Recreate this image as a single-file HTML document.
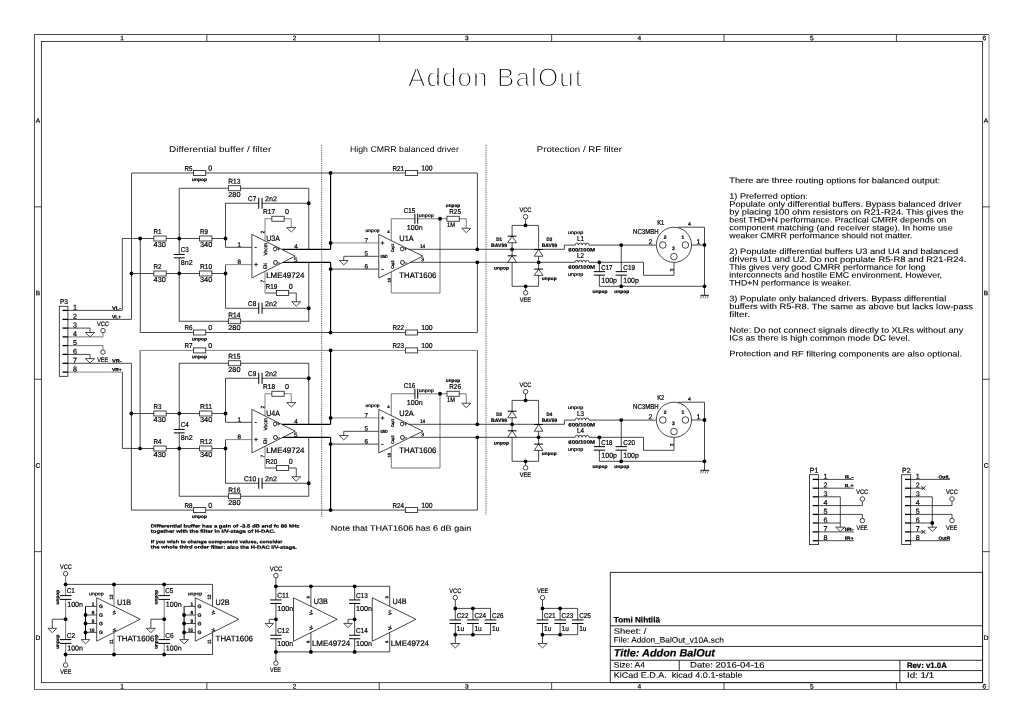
<!DOCTYPE html>
<html><head><meta charset="utf-8"><title>Addon BalOut</title>
<style>
html,body{margin:0;padding:0;background:#fff;}
svg{display:block;will-change:transform;filter:grayscale(1)}
text{font-family:'Liberation Sans', sans-serif;fill:#000;white-space:pre;text-rendering:geometricPrecision;stroke:#000;stroke-width:0.22px}
polyline,.w{fill:none;stroke:#1a1a1a;stroke-width:0.8}
polyline.k{stroke:#000;stroke-width:1.15}
polyline.g{stroke:#666;stroke-width:0.8}
.b{fill:#fff;stroke:#1a1a1a;stroke-width:0.8}
.p{stroke:#000;stroke-width:1.0}
.j{fill:#000;stroke:none}
.f{fill:none;stroke:#1a1a1a;stroke-width:0.8}
</style></head>
<body>
<svg width="1024" height="724" viewBox="0 0 1024 724">
<rect x="0" y="0" width="1024" height="724" fill="#fff" stroke="none"/>
<polyline points="989.00,34.48 34.48,34.48 34.48,689.46" style="stroke-width:0.8;"/>
<polyline points="34.48,689.46 989.00,689.46" style="stroke-width:0.8;stroke:#444;"/>
<polyline points="989.00,34.48 989.00,689.46" style="stroke-width:0.8;stroke:#777;"/>
<rect x="41.37" y="41.37" width="941.25" height="641.29" class="f"/>
<polyline points="206.87,34.48 206.87,41.37"/>
<polyline points="206.87,682.67 206.87,689.56"/>
<polyline points="379.26,34.48 379.26,41.37"/>
<polyline points="379.26,682.67 379.26,689.56"/>
<polyline points="551.65,34.48 551.65,41.37"/>
<polyline points="551.65,682.67 551.65,689.56"/>
<polyline points="724.04,34.48 724.04,41.37"/>
<polyline points="724.04,682.67 724.04,689.56"/>
<polyline points="896.43,34.48 896.43,41.37"/>
<polyline points="896.43,682.67 896.43,689.56"/>
<text x="122.17" y="40.33" font-size="6.57" text-anchor="middle" transform="rotate(0.03 122.17 40.33)">1</text>
<text x="122.17" y="688.51" font-size="6.57" text-anchor="middle" transform="rotate(0.03 122.17 688.51)">1</text>
<text x="294.56" y="40.33" font-size="6.57" text-anchor="middle" transform="rotate(0.03 294.56 40.33)">2</text>
<text x="294.56" y="688.51" font-size="6.57" text-anchor="middle" transform="rotate(0.03 294.56 688.51)">2</text>
<text x="466.95" y="40.33" font-size="6.57" text-anchor="middle" transform="rotate(0.03 466.95 40.33)">3</text>
<text x="466.95" y="688.51" font-size="6.57" text-anchor="middle" transform="rotate(0.03 466.95 688.51)">3</text>
<text x="639.35" y="40.33" font-size="6.57" text-anchor="middle" transform="rotate(0.03 639.35 40.33)">4</text>
<text x="639.35" y="688.51" font-size="6.57" text-anchor="middle" transform="rotate(0.03 639.35 688.51)">4</text>
<text x="811.74" y="40.33" font-size="6.57" text-anchor="middle" transform="rotate(0.03 811.74 40.33)">5</text>
<text x="811.74" y="688.51" font-size="6.57" text-anchor="middle" transform="rotate(0.03 811.74 688.51)">5</text>
<text x="984.40" y="40.33" font-size="6.57" text-anchor="middle" transform="rotate(0.03 984.40 40.33)">6</text>
<text x="984.40" y="688.51" font-size="6.57" text-anchor="middle" transform="rotate(0.03 984.40 688.51)">6</text>
<polyline points="34.48,206.87 41.37,206.87"/>
<polyline points="982.63,206.87 989.52,206.87"/>
<polyline points="34.48,379.26 41.37,379.26"/>
<polyline points="982.63,379.26 989.52,379.26"/>
<polyline points="34.48,551.65 41.37,551.65"/>
<polyline points="982.63,551.65 989.52,551.65"/>
<text x="37.93" y="122.87" font-size="6.57" text-anchor="middle" transform="rotate(0.03 37.93 122.87)">A</text>
<text x="986.07" y="122.87" font-size="6.57" text-anchor="middle" transform="rotate(0.03 986.07 122.87)">A</text>
<text x="37.93" y="295.26" font-size="6.57" text-anchor="middle" transform="rotate(0.03 37.93 295.26)">B</text>
<text x="986.07" y="295.26" font-size="6.57" text-anchor="middle" transform="rotate(0.03 986.07 295.26)">B</text>
<text x="37.93" y="467.65" font-size="6.57" text-anchor="middle" transform="rotate(0.03 37.93 467.65)">C</text>
<text x="986.07" y="467.65" font-size="6.57" text-anchor="middle" transform="rotate(0.03 986.07 467.65)">C</text>
<text x="37.93" y="640.05" font-size="6.57" text-anchor="middle" transform="rotate(0.03 37.93 640.05)">D</text>
<text x="986.07" y="640.05" font-size="6.57" text-anchor="middle" transform="rotate(0.03 986.07 640.05)">D</text>
<rect x="610.26" y="572.34" width="372.36" height="110.33" class="f" style="stroke-width:0.9"/>
<polyline points="610.26,670.60 982.63,670.60" style="stroke-width:0.9;"/>
<polyline points="610.26,660.26 982.63,660.26" style="stroke-width:0.9;"/>
<polyline points="610.26,646.46 982.63,646.46" style="stroke-width:0.9;"/>
<polyline points="610.26,625.78 982.63,625.78" style="stroke-width:0.9;"/>
<polyline points="679.22,660.26 679.22,670.60" style="stroke-width:0.9;"/>
<polyline points="899.88,660.26 899.88,682.67" style="stroke-width:0.9;"/>
<text x="613.75" y="622.60" font-size="7.86" textLength="46.20" lengthAdjust="spacingAndGlyphs" font-weight="bold" transform="rotate(0.03 613.75 622.60)">Tomi Nihtilä</text>
<text x="613.75" y="633.80" font-size="7.86" textLength="32.50" lengthAdjust="spacingAndGlyphs" style="stroke-width:0.1px" transform="rotate(0.03 613.75 633.80)">Sheet: /</text>
<text x="613.75" y="642.60" font-size="7.86" textLength="110.00" lengthAdjust="spacingAndGlyphs" style="stroke-width:0.1px" transform="rotate(0.03 613.75 642.60)">File: Addon_BalOut_v10A.sch</text>
<text x="613.75" y="656.40" font-size="10.71" textLength="101.20" lengthAdjust="spacingAndGlyphs" font-weight="bold" font-style="italic" transform="rotate(0.03 613.75 656.40)">Title: Addon BalOut</text>
<text x="613.75" y="667.60" font-size="7.86" textLength="31.20" lengthAdjust="spacingAndGlyphs" style="stroke-width:0.1px" transform="rotate(0.03 613.75 667.60)">Size: A4</text>
<text x="690.00" y="667.60" font-size="7.86" textLength="74.50" lengthAdjust="spacingAndGlyphs" style="stroke-width:0.1px" transform="rotate(0.03 690.00 667.60)">Date: 2016-04-16</text>
<text x="613.75" y="677.70" font-size="7.86" textLength="128.70" lengthAdjust="spacingAndGlyphs" style="stroke-width:0.1px" transform="rotate(0.03 613.75 677.70)">KiCad E.D.A.  kicad 4.0.1-stable</text>
<text x="906.90" y="667.90" font-size="7.86" textLength="39.90" lengthAdjust="spacingAndGlyphs" font-weight="bold" transform="rotate(0.03 906.90 667.90)">Rev: v1.0A</text>
<text x="906.90" y="677.80" font-size="7.86" textLength="27.40" lengthAdjust="spacingAndGlyphs" style="stroke-width:0.1px" transform="rotate(0.03 906.90 677.80)">Id: 1/1</text>
<polyline points="131.50,173.00 477.40,173.00 477.40,249.30"/>
<polyline points="140.30,332.50 477.40,332.50 477.40,262.30"/>
<polyline points="140.10,350.40 477.40,350.40" style="stroke:#666;"/>
<polyline points="477.40,350.40 477.40,424.30"/>
<polyline points="131.40,510.10 477.40,510.10 477.40,437.30"/>
<polyline points="330.60,173.00 330.60,249.30" class="k"/>
<polyline points="330.60,262.30 330.60,332.50" class="k"/>
<polyline points="330.60,350.40 330.60,424.30" class="k"/>
<polyline points="330.60,437.30 330.60,510.10" class="k"/>
<circle cx="330.60" cy="173.00" r="1.9" class="j"/>
<circle cx="330.60" cy="332.50" r="1.9" class="j"/>
<circle cx="330.60" cy="350.40" r="1.9" class="j"/>
<circle cx="330.60" cy="510.10" r="1.9" class="j"/>
<rect x="193.45" y="170.50" width="12.3" height="5.0" class="b"/>
<rect x="405.35" y="170.50" width="12.3" height="5.0" class="b"/>
<text x="184.50" y="170.60" font-size="7.14" textLength="8.00" lengthAdjust="spacingAndGlyphs" transform="rotate(0.03 184.50 170.60)">R5</text>
<text x="208.20" y="170.60" font-size="7.14" transform="rotate(0.03 208.20 170.60)">0</text>
<text x="192.00" y="180.90" font-size="4.57" textLength="15.00" lengthAdjust="spacingAndGlyphs" font-weight="bold" transform="rotate(0.03 192.00 180.90)">unpop</text>
<text x="392.40" y="170.60" font-size="7.14" textLength="11.50" lengthAdjust="spacingAndGlyphs" transform="rotate(0.03 392.40 170.60)">R21</text>
<text x="421.20" y="170.60" font-size="7.14" textLength="11.40" lengthAdjust="spacingAndGlyphs" transform="rotate(0.03 421.20 170.60)">100</text>
<rect x="193.45" y="330.00" width="12.3" height="5.0" class="b"/>
<rect x="405.35" y="330.00" width="12.3" height="5.0" class="b"/>
<text x="184.50" y="330.10" font-size="7.14" textLength="8.00" lengthAdjust="spacingAndGlyphs" transform="rotate(0.03 184.50 330.10)">R6</text>
<text x="208.20" y="330.10" font-size="7.14" transform="rotate(0.03 208.20 330.10)">0</text>
<text x="192.00" y="340.40" font-size="4.57" textLength="15.00" lengthAdjust="spacingAndGlyphs" font-weight="bold" transform="rotate(0.03 192.00 340.40)">unpop</text>
<text x="392.40" y="330.10" font-size="7.14" textLength="11.50" lengthAdjust="spacingAndGlyphs" transform="rotate(0.03 392.40 330.10)">R22</text>
<text x="421.20" y="330.10" font-size="7.14" textLength="11.40" lengthAdjust="spacingAndGlyphs" transform="rotate(0.03 421.20 330.10)">100</text>
<rect x="193.45" y="347.90" width="12.3" height="5.0" class="b"/>
<rect x="405.35" y="347.90" width="12.3" height="5.0" class="b"/>
<text x="184.50" y="348.00" font-size="7.14" textLength="8.00" lengthAdjust="spacingAndGlyphs" transform="rotate(0.03 184.50 348.00)">R7</text>
<text x="208.20" y="348.00" font-size="7.14" transform="rotate(0.03 208.20 348.00)">0</text>
<text x="192.00" y="358.30" font-size="4.57" textLength="15.00" lengthAdjust="spacingAndGlyphs" font-weight="bold" transform="rotate(0.03 192.00 358.30)">unpop</text>
<text x="392.40" y="348.00" font-size="7.14" textLength="11.50" lengthAdjust="spacingAndGlyphs" transform="rotate(0.03 392.40 348.00)">R23</text>
<text x="421.20" y="348.00" font-size="7.14" textLength="11.40" lengthAdjust="spacingAndGlyphs" transform="rotate(0.03 421.20 348.00)">100</text>
<rect x="193.45" y="507.60" width="12.3" height="5.0" class="b"/>
<rect x="405.35" y="507.60" width="12.3" height="5.0" class="b"/>
<text x="184.50" y="507.70" font-size="7.14" textLength="8.00" lengthAdjust="spacingAndGlyphs" transform="rotate(0.03 184.50 507.70)">R8</text>
<text x="208.20" y="507.70" font-size="7.14" transform="rotate(0.03 208.20 507.70)">0</text>
<text x="192.00" y="518.00" font-size="4.57" textLength="15.00" lengthAdjust="spacingAndGlyphs" font-weight="bold" transform="rotate(0.03 192.00 518.00)">unpop</text>
<text x="392.40" y="507.70" font-size="7.14" textLength="11.50" lengthAdjust="spacingAndGlyphs" transform="rotate(0.03 392.40 507.70)">R24</text>
<text x="421.20" y="507.70" font-size="7.14" textLength="11.40" lengthAdjust="spacingAndGlyphs" transform="rotate(0.03 421.20 507.70)">100</text>
<polyline points="67.90,310.40 122.30,310.40 122.30,238.50 140.20,238.50"/>
<polyline points="67.90,319.40 131.50,319.40 131.50,173.00"/>
<polyline points="140.30,238.50 140.30,332.50"/>
<circle cx="140.20" cy="238.50" r="1.9" class="j"/>
<circle cx="131.50" cy="273.50" r="1.9" class="j"/>
<polyline points="67.90,363.30 131.40,363.30 131.40,510.10"/>
<polyline points="67.90,372.10 122.40,372.10" style="stroke:#666;"/>
<polyline points="122.40,372.10 122.40,448.40 131.50,448.40"/>
<polyline points="140.10,350.40 140.10,448.40"/>
<polyline points="131.40,413.50 140.20,413.50"/>
<circle cx="131.40" cy="413.50" r="1.9" class="j"/>
<circle cx="140.10" cy="448.40" r="1.9" class="j"/>
<rect x="59.3" y="306.3" width="8.6" height="70.0" class="b"/>
<polyline points="62.50,310.40 68.00,310.40" style="stroke-width:1.3;stroke:#000;"/>
<text x="73.00" y="309.80" font-size="7.14" transform="rotate(0.03 73.00 309.80)">1</text>
<polyline points="62.50,319.40 68.00,319.40" style="stroke-width:1.3;stroke:#000;"/>
<text x="73.00" y="318.80" font-size="7.14" transform="rotate(0.03 73.00 318.80)">2</text>
<polyline points="62.50,328.10 68.00,328.10" style="stroke-width:1.3;stroke:#000;"/>
<text x="73.00" y="327.50" font-size="7.14" transform="rotate(0.03 73.00 327.50)">3</text>
<polyline points="62.50,336.90 68.00,336.90" style="stroke-width:1.3;stroke:#000;"/>
<text x="73.00" y="336.30" font-size="7.14" transform="rotate(0.03 73.00 336.30)">4</text>
<polyline points="62.50,345.60 68.00,345.60" style="stroke-width:1.3;stroke:#000;"/>
<text x="73.00" y="345.00" font-size="7.14" transform="rotate(0.03 73.00 345.00)">5</text>
<polyline points="62.50,354.40 68.00,354.40" style="stroke-width:1.3;stroke:#000;"/>
<text x="73.00" y="353.80" font-size="7.14" transform="rotate(0.03 73.00 353.80)">6</text>
<polyline points="62.50,363.30 68.00,363.30" style="stroke-width:1.3;stroke:#000;"/>
<text x="73.00" y="362.70" font-size="7.14" transform="rotate(0.03 73.00 362.70)">7</text>
<polyline points="62.50,372.10 68.00,372.10" style="stroke-width:1.3;stroke:#000;"/>
<text x="73.00" y="371.50" font-size="7.14" transform="rotate(0.03 73.00 371.50)">8</text>
<text x="60.00" y="303.80" font-size="7.14" textLength="8.00" lengthAdjust="spacingAndGlyphs" transform="rotate(0.03 60.00 303.80)">P3</text>
<polyline points="67.90,328.10 90.00,328.10 90.00,332.50"/>
<polygon points="85.40,332.50 94.60,332.50 90.00,336.90" class="b"/>
<polyline points="67.90,336.90 103.00,336.90 103.00,332.90" style="stroke:#555;"/>
<circle cx="103.00" cy="330.60" r="2.25" class="b"/>
<text x="96.90" y="325.90" font-size="6.43" textLength="11.90" lengthAdjust="spacingAndGlyphs" transform="rotate(0.03 96.90 325.90)">VCC</text>
<polyline points="67.90,345.60 103.00,345.60 103.00,349.80" style="stroke:#555;"/>
<circle cx="103.00" cy="352.10" r="2.25" class="b"/>
<text x="97.20" y="361.60" font-size="6.43" textLength="11.00" lengthAdjust="spacingAndGlyphs" transform="rotate(0.03 97.20 361.60)">VEE</text>
<polyline points="67.90,354.40 90.00,354.40 90.00,358.60"/>
<polygon points="85.40,358.60 94.60,358.60 90.00,363.00" class="b"/>
<text x="111.90" y="309.70" font-size="4.57" textLength="9.40" lengthAdjust="spacingAndGlyphs" font-weight="bold" transform="rotate(0.03 111.90 309.70)">VL-</text>
<text x="111.90" y="318.60" font-size="4.57" textLength="9.40" lengthAdjust="spacingAndGlyphs" font-weight="bold" transform="rotate(0.03 111.90 318.60)">VL+</text>
<text x="111.90" y="362.60" font-size="4.57" textLength="9.80" lengthAdjust="spacingAndGlyphs" font-weight="bold" transform="rotate(0.03 111.90 362.60)">VR-</text>
<text x="111.90" y="371.20" font-size="4.57" textLength="9.80" lengthAdjust="spacingAndGlyphs" font-weight="bold" transform="rotate(0.03 111.90 371.20)">VR+</text>
<line x1="321.7" y1="145.0" x2="321.7" y2="517.0" stroke="#333" stroke-width="0.9" stroke-dasharray="0.9 0.9"/>
<line x1="486.0" y1="145.0" x2="486.0" y2="514.5" stroke="#333" stroke-width="0.9" stroke-dasharray="0.9 0.9"/>
<text x="169.00" y="152.00" font-size="8.29" textLength="102.30" lengthAdjust="spacingAndGlyphs" style="stroke:none" transform="rotate(0.03 169.00 152.00)">Differential buffer / filter</text>
<text x="350.00" y="152.00" font-size="8.29" textLength="108.80" lengthAdjust="spacingAndGlyphs" style="stroke:none" transform="rotate(0.03 350.00 152.00)">High CMRR balanced driver</text>
<text x="536.80" y="152.00" font-size="8.29" textLength="85.20" lengthAdjust="spacingAndGlyphs" style="stroke:none" transform="rotate(0.03 536.80 152.00)">Protection / RF filter</text>
<text x="330.80" y="530.80" font-size="7.71" textLength="140.50" lengthAdjust="spacingAndGlyphs" style="stroke-width:0.08px" transform="rotate(0.03 330.80 530.80)">Note that THAT1606 has 6 dB gain</text>
<text x="150.80" y="527.50" font-size="4.57" textLength="148.70" lengthAdjust="spacingAndGlyphs" font-weight="bold" transform="rotate(0.03 150.80 527.50)">Differential buffer has a gain of -3.5 dB and fc 86 kHz</text>
<text x="150.80" y="532.70" font-size="4.57" textLength="124.70" lengthAdjust="spacingAndGlyphs" font-weight="bold" transform="rotate(0.03 150.80 532.70)">together with the filter in I/V-stage of H-DAC.</text>
<text x="150.80" y="543.20" font-size="4.57" textLength="131.70" lengthAdjust="spacingAndGlyphs" font-weight="bold" transform="rotate(0.03 150.80 543.20)">If you wish to change component values, consider</text>
<text x="150.80" y="548.60" font-size="4.57" textLength="146.20" lengthAdjust="spacingAndGlyphs" font-weight="bold" transform="rotate(0.03 150.80 548.60)">the whole third order filter: also the H-DAC I/V-stage.</text>
<text x="408.00" y="86.30" font-size="26.00" textLength="174.00" lengthAdjust="spacing" fill="#111" style="stroke:#fff;stroke-width:1.25px" transform="rotate(0.03 408.00 86.30)">Addon BalOut</text>
<polyline points="179.25,188.25 308.75,188.25 308.75,249.30"/>
<polyline points="179.25,188.25 179.25,321.25 308.75,321.25 308.75,262.30"/>
<rect x="228.35" y="185.75" width="12.3" height="5.0" class="b"/>
<text x="228.30" y="183.80" font-size="7.14" textLength="12.20" lengthAdjust="spacingAndGlyphs" transform="rotate(0.03 228.30 183.80)">R13</text>
<text x="228.30" y="197.10" font-size="7.14" textLength="12.20" lengthAdjust="spacingAndGlyphs" transform="rotate(0.03 228.30 197.10)">280</text>
<rect x="228.35" y="318.75" width="12.3" height="5.0" class="b"/>
<text x="228.30" y="317.40" font-size="7.14" textLength="12.20" lengthAdjust="spacingAndGlyphs" transform="rotate(0.03 228.30 317.40)">R14</text>
<text x="228.30" y="330.10" font-size="7.14" textLength="12.20" lengthAdjust="spacingAndGlyphs" transform="rotate(0.03 228.30 330.10)">280</text>
<polyline points="140.20,238.50 225.50,238.50"/>
<polyline points="131.50,273.50 225.50,273.50"/>
<rect x="153.85" y="236.00" width="12.3" height="5.0" class="b"/>
<text x="153.60" y="234.00" font-size="7.14" textLength="8.00" lengthAdjust="spacingAndGlyphs" transform="rotate(0.03 153.60 234.00)">R1</text>
<text x="153.60" y="247.10" font-size="7.14" textLength="12.20" lengthAdjust="spacingAndGlyphs" transform="rotate(0.03 153.60 247.10)">430</text>
<rect x="153.85" y="271.00" width="12.3" height="5.0" class="b"/>
<text x="153.60" y="269.00" font-size="7.14" textLength="8.00" lengthAdjust="spacingAndGlyphs" transform="rotate(0.03 153.60 269.00)">R2</text>
<text x="153.60" y="282.10" font-size="7.14" textLength="12.20" lengthAdjust="spacingAndGlyphs" transform="rotate(0.03 153.60 282.10)">430</text>
<rect x="199.60" y="236.00" width="12.3" height="5.0" class="b"/>
<text x="200.00" y="234.00" font-size="7.14" textLength="8.00" lengthAdjust="spacingAndGlyphs" transform="rotate(0.03 200.00 234.00)">R9</text>
<text x="200.00" y="247.10" font-size="7.14" textLength="12.20" lengthAdjust="spacingAndGlyphs" transform="rotate(0.03 200.00 247.10)">340</text>
<rect x="199.60" y="271.00" width="12.3" height="5.0" class="b"/>
<text x="200.00" y="269.00" font-size="7.14" textLength="12.20" lengthAdjust="spacingAndGlyphs" transform="rotate(0.03 200.00 269.00)">R10</text>
<text x="200.00" y="282.10" font-size="7.14" textLength="12.20" lengthAdjust="spacingAndGlyphs" transform="rotate(0.03 200.00 282.10)">340</text>
<rect x="178.05" y="254.45" width="2.4" height="3.40" fill="#fff" stroke="none"/>
<line x1="173.85" y1="254.45" x2="184.65" y2="254.45" class="p"/>
<line x1="173.85" y1="257.85" x2="184.65" y2="257.85" class="p"/>
<text x="180.80" y="252.40" font-size="7.14" textLength="8.00" lengthAdjust="spacingAndGlyphs" transform="rotate(0.03 180.80 252.40)">C3</text>
<text x="180.80" y="265.10" font-size="7.14" textLength="11.80" lengthAdjust="spacingAndGlyphs" transform="rotate(0.03 180.80 265.10)">8n2</text>
<polyline points="225.50,247.30 225.50,203.25 308.75,203.25"/>
<polyline points="225.50,264.60 225.50,308.25 308.75,308.25"/>
<rect x="258.75" y="202.05" width="3.30" height="2.4" fill="#fff" stroke="none"/>
<line x1="258.75" y1="197.75" x2="258.75" y2="208.75" class="p"/>
<line x1="262.05" y1="197.75" x2="262.05" y2="208.75" class="p"/>
<rect x="258.75" y="307.05" width="3.30" height="2.4" fill="#fff" stroke="none"/>
<line x1="258.75" y1="302.75" x2="258.75" y2="313.75" class="p"/>
<line x1="262.05" y1="302.75" x2="262.05" y2="313.75" class="p"/>
<text x="248.10" y="201.20" font-size="7.14" textLength="8.20" lengthAdjust="spacingAndGlyphs" transform="rotate(0.03 248.10 201.20)">C7</text>
<text x="265.00" y="201.20" font-size="7.14" textLength="12.00" lengthAdjust="spacingAndGlyphs" transform="rotate(0.03 265.00 201.20)">2n2</text>
<text x="248.10" y="306.20" font-size="7.14" textLength="8.20" lengthAdjust="spacingAndGlyphs" transform="rotate(0.03 248.10 306.20)">C8</text>
<text x="265.00" y="306.20" font-size="7.14" textLength="12.00" lengthAdjust="spacingAndGlyphs" transform="rotate(0.03 265.00 306.20)">2n2</text>
<polyline points="225.50,247.30 251.90,247.30"/>
<polyline points="225.50,264.60 251.90,264.60" style="stroke:#666;"/>
<circle cx="179.25" cy="238.50" r="1.9" class="j"/>
<circle cx="179.25" cy="273.50" r="1.9" class="j"/>
<circle cx="225.50" cy="238.50" r="1.9" class="j"/>
<circle cx="225.50" cy="273.50" r="1.9" class="j"/>
<circle cx="308.75" cy="203.25" r="1.9" class="j"/>
<circle cx="308.75" cy="308.25" r="1.9" class="j"/>
<polyline points="265.00,241.00 265.00,218.75 291.25,218.75 291.25,227.60" style="stroke:#666;"/>
<rect x="271.85" y="216.25" width="12.3" height="5.0" class="b"/>
<polygon points="286.75,227.60 295.75,227.60 291.25,232.00" class="b"/>
<text x="263.10" y="214.00" font-size="7.14" textLength="12.00" lengthAdjust="spacingAndGlyphs" transform="rotate(0.03 263.10 214.00)">R17</text>
<text x="285.00" y="214.00" font-size="7.14" transform="rotate(0.03 285.00 214.00)">0</text>
<polyline points="265.00,271.20 265.00,293.00" style="stroke:#666;"/>
<polyline points="265.00,293.00 296.25,293.00 296.25,301.75"/>
<rect x="276.35" y="290.50" width="12.3" height="5.0" class="b"/>
<polygon points="291.75,301.75 300.75,301.75 296.25,306.15" class="b"/>
<text x="265.80" y="288.80" font-size="7.14" textLength="11.40" lengthAdjust="spacingAndGlyphs" transform="rotate(0.03 265.80 288.80)">R19</text>
<text x="288.80" y="288.80" font-size="7.14" transform="rotate(0.03 288.80 288.80)">0</text>
<polyline points="281.80,249.30 330.60,249.30" class="k"/>
<polyline points="282.20,262.30 330.60,262.30" class="k"/>
<polygon points="251.90,234.40 251.90,277.90 295.20,256.15" class="b"/>
<text x="254.60" y="249.30" font-size="7.14" transform="rotate(0.03 254.60 249.30)">-</text>
<text x="253.90" y="266.80" font-size="6.86" transform="rotate(0.03 253.90 266.80)">+</text>
<text x="273.10" y="251.30" font-size="6.00" textLength="7.00" lengthAdjust="spacingAndGlyphs" transform="rotate(0.03 273.10 251.30)">O+</text>
<text x="273.10" y="264.50" font-size="6.00" textLength="7.00" lengthAdjust="spacingAndGlyphs" transform="rotate(0.03 273.10 264.50)">O-</text>
<text x="267.30" y="255.60" font-size="5.14" textLength="12.50" lengthAdjust="spacingAndGlyphs" transform="rotate(-89.97 267.30 255.60)">Vocm</text>
<text x="267.30" y="268.80" font-size="5.14" textLength="5.60" lengthAdjust="spacingAndGlyphs" transform="rotate(-89.97 267.30 268.80)">EN</text>
<text x="266.20" y="241.00" font-size="8.00" textLength="13.60" lengthAdjust="spacingAndGlyphs" transform="rotate(0.03 266.20 241.00)">U3A</text>
<text x="266.20" y="278.10" font-size="8.00" textLength="38.30" lengthAdjust="spacingAndGlyphs" transform="rotate(0.03 266.20 278.10)">LME49724</text>
<text x="237.50" y="246.70" font-size="6.29" transform="rotate(0.03 237.50 246.70)">1</text>
<text x="237.50" y="264.00" font-size="6.29" transform="rotate(0.03 237.50 264.00)">8</text>
<text x="294.20" y="248.60" font-size="6.29" transform="rotate(0.03 294.20 248.60)">4</text>
<text x="293.90" y="261.90" font-size="6.29" transform="rotate(0.03 293.90 261.90)">5</text>
<text x="264.20" y="233.60" font-size="4.86" transform="rotate(-89.97 264.20 233.60)">2</text>
<text x="264.20" y="282.60" font-size="4.86" transform="rotate(-89.97 264.20 282.60)">7</text>
<polyline points="330.60,242.90 378.75,242.90" style="stroke:#666;"/>
<polyline points="330.60,269.10 378.75,269.10"/>
<circle cx="330.60" cy="242.90" r="1.9" class="j"/>
<circle cx="330.60" cy="269.10" r="1.9" class="j"/>
<polyline points="378.75,256.30 343.75,256.30 343.75,260.50"/>
<polygon points="339.25,260.50 348.25,260.50 343.75,264.90" class="b"/>
<polyline points="391.25,240.70 391.25,218.75 466.25,218.75 466.25,228.25" style="stroke:#555;"/>
<polyline points="440.00,218.75 440.00,293.00 391.25,293.00 391.25,271.80" style="stroke:#555;"/>
<rect x="414.90" y="217.55" width="2.80" height="2.4" fill="#fff" stroke="none"/>
<line x1="414.90" y1="213.75" x2="414.90" y2="223.75" class="p"/>
<line x1="417.70" y1="213.75" x2="417.70" y2="223.75" class="p"/>
<rect x="446.95" y="216.25" width="12.3" height="5.0" class="b"/>
<polygon points="461.75,228.25 470.75,228.25 466.25,232.65" class="b"/>
<circle cx="440.00" cy="218.75" r="1.9" class="j"/>
<text x="403.80" y="212.60" font-size="7.14" textLength="11.40" lengthAdjust="spacingAndGlyphs" transform="rotate(0.03 403.80 212.60)">C15</text>
<text x="406.80" y="230.00" font-size="7.14" textLength="15.80" lengthAdjust="spacingAndGlyphs" transform="rotate(0.03 406.80 230.00)">100n</text>
<text x="418.80" y="217.00" font-size="4.57" textLength="15.00" lengthAdjust="spacingAndGlyphs" transform="rotate(0.03 418.80 217.00)">unpop</text>
<text x="445.80" y="207.00" font-size="4.57" textLength="14.40" lengthAdjust="spacingAndGlyphs" font-weight="bold" transform="rotate(0.03 445.80 207.00)">unpop</text>
<text x="449.30" y="214.20" font-size="7.14" textLength="11.60" lengthAdjust="spacingAndGlyphs" transform="rotate(0.03 449.30 214.20)">R25</text>
<text x="447.00" y="227.00" font-size="6.57" textLength="8.00" lengthAdjust="spacingAndGlyphs" transform="rotate(0.03 447.00 227.00)">1M</text>
<polygon points="378.75,234.40 378.75,278.00 422.90,256.20" class="b"/>
<text x="380.60" y="245.30" font-size="6.86" transform="rotate(0.03 380.60 245.30)">+</text>
<text x="381.20" y="271.20" font-size="7.14" transform="rotate(0.03 381.20 271.20)">-</text>
<text x="380.40" y="257.70" font-size="4.43" textLength="7.20" lengthAdjust="spacingAndGlyphs" font-weight="bold" transform="rotate(0.03 380.40 257.70)">GND</text>
<text x="400.00" y="251.30" font-size="6.00" textLength="7.00" lengthAdjust="spacingAndGlyphs" transform="rotate(0.03 400.00 251.30)">O+</text>
<text x="400.00" y="264.50" font-size="6.00" textLength="7.00" lengthAdjust="spacingAndGlyphs" transform="rotate(0.03 400.00 264.50)">O-</text>
<text x="393.80" y="252.20" font-size="4.14" textLength="8.40" lengthAdjust="spacingAndGlyphs" font-weight="bold" transform="rotate(-89.97 393.80 252.20)">Cap1</text>
<text x="393.80" y="268.80" font-size="4.14" textLength="8.40" lengthAdjust="spacingAndGlyphs" font-weight="bold" transform="rotate(-89.97 393.80 268.80)">Cap2</text>
<text x="399.30" y="240.70" font-size="8.00" textLength="14.40" lengthAdjust="spacingAndGlyphs" transform="rotate(0.03 399.30 240.70)">U1A</text>
<text x="399.30" y="278.10" font-size="8.00" textLength="37.00" lengthAdjust="spacingAndGlyphs" transform="rotate(0.03 399.30 278.10)">THAT1606</text>
<text x="364.60" y="242.40" font-size="6.29" transform="rotate(0.03 364.60 242.40)">7</text>
<text x="364.60" y="255.50" font-size="6.29" transform="rotate(0.03 364.60 255.50)">5</text>
<text x="364.60" y="268.60" font-size="6.29" transform="rotate(0.03 364.60 268.60)">6</text>
<text x="420.00" y="248.20" font-size="5.14" textLength="5.20" lengthAdjust="spacingAndGlyphs" transform="rotate(0.03 420.00 248.20)">14</text>
<text x="421.30" y="261.30" font-size="5.14" transform="rotate(0.03 421.30 261.30)">3</text>
<text x="387.30" y="233.00" font-size="4.00" font-weight="bold" transform="rotate(0.03 387.30 233.00)">4</text>
<text x="390.60" y="282.60" font-size="4.00" textLength="4.60" lengthAdjust="spacingAndGlyphs" font-weight="bold" transform="rotate(-89.97 390.60 282.60)">13</text>
<text x="365.50" y="232.00" font-size="4.57" textLength="14.00" lengthAdjust="spacingAndGlyphs" transform="rotate(0.03 365.50 232.00)">unpop</text>
<polyline points="408.30,249.30 564.40,249.30 564.40,245.10 656.20,245.10"/>
<polyline points="410.30,262.30 643.50,262.30 643.50,275.30 674.00,275.30 674.00,262.50"/>
<circle cx="477.30" cy="249.30" r="1.9" class="j"/>
<circle cx="477.30" cy="262.30" r="1.9" class="j"/>
<circle cx="512.10" cy="249.30" r="1.9" class="j"/>
<circle cx="538.60" cy="262.30" r="1.9" class="j"/>
<circle cx="599.40" cy="262.30" r="1.9" class="j"/>
<circle cx="621.25" cy="245.10" r="1.9" class="j"/>
<polyline points="525.60,219.00 525.60,225.40"/>
<polyline points="512.10,286.30 512.10,225.40 538.60,225.40 538.60,286.30 512.10,286.30"/>
<polyline points="525.60,286.30 525.60,290.50"/>
<circle cx="525.60" cy="225.40" r="1.9" class="j"/>
<circle cx="525.60" cy="286.30" r="1.9" class="j"/>
<circle cx="525.60" cy="216.70" r="2.25" class="b"/>
<text x="519.50" y="212.00" font-size="6.43" textLength="11.90" lengthAdjust="spacingAndGlyphs" transform="rotate(0.03 519.50 212.00)">VCC</text>
<circle cx="525.60" cy="292.80" r="2.25" class="b"/>
<text x="519.80" y="302.20" font-size="6.43" textLength="11.30" lengthAdjust="spacingAndGlyphs" transform="rotate(0.03 519.80 302.20)">VEE</text>
<polygon points="507.70,242.75 516.50,242.75 512.10,236.20" class="b"/>
<line x1="507.70" y1="236.20" x2="516.50" y2="236.20" class="p"/>
<polygon points="507.70,262.30 516.50,262.30 512.10,255.80" class="b"/>
<line x1="507.70" y1="255.80" x2="516.50" y2="255.80" class="p"/>
<polygon points="534.20,256.20 543.00,256.20 538.60,249.50" class="b"/>
<line x1="534.20" y1="249.50" x2="543.00" y2="249.50" class="p"/>
<polygon points="534.20,275.40 543.00,275.40 538.60,269.10" class="b"/>
<line x1="534.20" y1="269.10" x2="543.00" y2="269.10" class="p"/>
<text x="496.30" y="240.60" font-size="5.00" textLength="5.80" lengthAdjust="spacingAndGlyphs" font-weight="bold" transform="rotate(0.03 496.30 240.60)">D1</text>
<text x="491.10" y="247.10" font-size="5.00" textLength="16.00" lengthAdjust="spacingAndGlyphs" font-weight="bold" transform="rotate(0.03 491.10 247.10)">BAV99</text>
<text x="494.00" y="269.40" font-size="4.57" textLength="14.90" lengthAdjust="spacingAndGlyphs" font-weight="bold" transform="rotate(0.03 494.00 269.40)">unpop</text>
<text x="546.60" y="240.60" font-size="5.00" textLength="5.80" lengthAdjust="spacingAndGlyphs" font-weight="bold" transform="rotate(0.03 546.60 240.60)">D3</text>
<text x="541.80" y="247.10" font-size="5.00" textLength="15.40" lengthAdjust="spacingAndGlyphs" font-weight="bold" transform="rotate(0.03 541.80 247.10)">BAV99</text>
<text x="541.80" y="280.10" font-size="4.57" textLength="14.90" lengthAdjust="spacingAndGlyphs" font-weight="bold" transform="rotate(0.03 541.80 280.10)">unpop</text>
<rect x="575.10" y="244.10" width="14.00" height="2" fill="#fff" stroke="none"/>
<path d="M575.10,245.10 a1.75,2.00 0 0 1 3.50,0 a1.75,2.00 0 0 1 3.50,0 a1.75,2.00 0 0 1 3.50,0 a1.75,2.00 0 0 1 3.50,0" class="w" fill="none"/>
<rect x="575.10" y="261.30" width="14.00" height="2" fill="#fff" stroke="none"/>
<path d="M575.10,262.30 a1.75,2.00 0 0 1 3.50,0 a1.75,2.00 0 0 1 3.50,0 a1.75,2.00 0 0 1 3.50,0 a1.75,2.00 0 0 1 3.50,0" class="w" fill="none"/>
<text x="568.00" y="234.00" font-size="4.57" textLength="15.30" lengthAdjust="spacingAndGlyphs" transform="rotate(0.03 568.00 234.00)">unpop</text>
<text x="577.00" y="240.90" font-size="7.14" textLength="7.00" lengthAdjust="spacingAndGlyphs" transform="rotate(0.03 577.00 240.90)">L1</text>
<text x="568.30" y="251.40" font-size="5.00" textLength="26.80" lengthAdjust="spacingAndGlyphs" font-weight="bold" transform="rotate(0.03 568.30 251.40)">600/100M</text>
<text x="577.00" y="258.30" font-size="7.14" textLength="7.00" lengthAdjust="spacingAndGlyphs" transform="rotate(0.03 577.00 258.30)">L2</text>
<text x="568.30" y="268.80" font-size="5.00" textLength="26.80" lengthAdjust="spacingAndGlyphs" font-weight="bold" transform="rotate(0.03 568.30 268.80)">600/100M</text>
<text x="568.00" y="275.80" font-size="4.57" textLength="15.30" lengthAdjust="spacingAndGlyphs" transform="rotate(0.03 568.00 275.80)">unpop</text>
<polyline points="599.40,262.30 599.40,286.30 704.50,286.30"/>
<polyline points="621.25,245.10 621.25,286.30"/>
<rect x="598.20" y="271.65" width="2.4" height="3.50" fill="#fff" stroke="none"/>
<line x1="593.75" y1="271.65" x2="605.05" y2="271.65" class="p"/>
<line x1="593.75" y1="275.15" x2="605.05" y2="275.15" class="p"/>
<rect x="620.05" y="271.65" width="2.4" height="3.50" fill="#fff" stroke="none"/>
<line x1="615.60" y1="271.65" x2="626.90" y2="271.65" class="p"/>
<line x1="615.60" y1="275.15" x2="626.90" y2="275.15" class="p"/>
<circle cx="621.25" cy="286.30" r="1.9" class="j"/>
<text x="601.30" y="270.00" font-size="7.14" textLength="11.20" lengthAdjust="spacingAndGlyphs" transform="rotate(0.03 601.30 270.00)">C17</text>
<text x="601.30" y="282.80" font-size="7.14" textLength="15.70" lengthAdjust="spacingAndGlyphs" transform="rotate(0.03 601.30 282.80)">100p</text>
<text x="592.50" y="293.00" font-size="4.57" textLength="15.00" lengthAdjust="spacingAndGlyphs" font-weight="bold" transform="rotate(0.03 592.50 293.00)">unpop</text>
<text x="623.30" y="270.00" font-size="7.14" textLength="11.70" lengthAdjust="spacingAndGlyphs" transform="rotate(0.03 623.30 270.00)">C19</text>
<text x="623.30" y="282.80" font-size="7.14" textLength="15.50" lengthAdjust="spacingAndGlyphs" transform="rotate(0.03 623.30 282.80)">100p</text>
<text x="614.30" y="293.00" font-size="4.57" textLength="15.00" lengthAdjust="spacingAndGlyphs" font-weight="bold" transform="rotate(0.03 614.30 293.00)">unpop</text>
<circle cx="673.95" cy="244.80" r="17.6" class="b"/>
<circle cx="662.8" cy="245.00" r="3.3" class="b"/>
<circle cx="685.4" cy="245.00" r="3.3" class="b"/>
<circle cx="673.95" cy="256.60" r="3.3" class="b"/>
<text x="663.70" y="238.90" font-size="5.00" font-weight="bold" transform="rotate(0.03 663.70 238.90)">2</text>
<text x="681.40" y="238.90" font-size="5.00" font-weight="bold" transform="rotate(0.03 681.40 238.90)">1</text>
<text x="671.90" y="250.00" font-size="5.00" font-weight="bold" transform="rotate(0.03 671.90 250.00)">3</text>
<text x="648.40" y="244.30" font-size="7.14" transform="rotate(0.03 648.40 244.30)">2</text>
<text x="696.40" y="244.30" font-size="7.14" transform="rotate(0.03 696.40 244.30)">1</text>
<text x="688.00" y="225.80" font-size="5.14" transform="rotate(0.03 688.00 225.80)">4</text>
<text x="673.60" y="271.20" font-size="4.86" transform="rotate(-89.97 673.60 271.20)">3</text>
<text x="657.20" y="225.10" font-size="7.14" textLength="7.20" lengthAdjust="spacingAndGlyphs" transform="rotate(0.03 657.20 225.10)">K1</text>
<text x="633.10" y="233.90" font-size="7.14" textLength="25.40" lengthAdjust="spacingAndGlyphs" transform="rotate(0.03 633.10 233.90)">NC3MBH</text>
<polyline points="691.60,245.00 704.50,245.00"/>
<polyline points="678.10,227.20 704.50,227.20 704.50,295.30"/>
<circle cx="704.50" cy="245.00" r="1.9" class="j"/>
<circle cx="704.50" cy="286.30" r="1.9" class="j"/>
<polyline points="700.40,295.30 708.80,295.30" style="stroke-width:1.0;"/>
<polyline points="701.60,295.30 700.40,298.40" style="stroke-width:0.6;"/>
<polyline points="703.90,295.30 702.70,298.40" style="stroke-width:0.6;"/>
<polyline points="706.20,295.30 705.00,298.40" style="stroke-width:0.6;"/>
<polyline points="708.50,295.30 707.30,298.40" style="stroke-width:0.6;"/>
<polyline points="179.25,363.25 308.75,363.25 308.75,424.30"/>
<polyline points="179.25,363.25 179.25,496.25 308.75,496.25 308.75,437.30"/>
<rect x="228.35" y="360.75" width="12.3" height="5.0" class="b"/>
<text x="228.30" y="358.80" font-size="7.14" textLength="12.20" lengthAdjust="spacingAndGlyphs" transform="rotate(0.03 228.30 358.80)">R15</text>
<text x="228.30" y="372.10" font-size="7.14" textLength="12.20" lengthAdjust="spacingAndGlyphs" transform="rotate(0.03 228.30 372.10)">280</text>
<rect x="228.35" y="493.75" width="12.3" height="5.0" class="b"/>
<text x="228.30" y="492.40" font-size="7.14" textLength="12.20" lengthAdjust="spacingAndGlyphs" transform="rotate(0.03 228.30 492.40)">R16</text>
<text x="228.30" y="505.10" font-size="7.14" textLength="12.20" lengthAdjust="spacingAndGlyphs" transform="rotate(0.03 228.30 505.10)">280</text>
<polyline points="140.20,413.50 225.50,413.50"/>
<polyline points="131.50,448.50 225.50,448.50"/>
<rect x="153.85" y="411.00" width="12.3" height="5.0" class="b"/>
<text x="153.60" y="409.00" font-size="7.14" textLength="8.00" lengthAdjust="spacingAndGlyphs" transform="rotate(0.03 153.60 409.00)">R3</text>
<text x="153.60" y="422.10" font-size="7.14" textLength="12.20" lengthAdjust="spacingAndGlyphs" transform="rotate(0.03 153.60 422.10)">430</text>
<rect x="153.85" y="446.00" width="12.3" height="5.0" class="b"/>
<text x="153.60" y="444.00" font-size="7.14" textLength="8.00" lengthAdjust="spacingAndGlyphs" transform="rotate(0.03 153.60 444.00)">R4</text>
<text x="153.60" y="457.10" font-size="7.14" textLength="12.20" lengthAdjust="spacingAndGlyphs" transform="rotate(0.03 153.60 457.10)">430</text>
<rect x="199.60" y="411.00" width="12.3" height="5.0" class="b"/>
<text x="200.00" y="409.00" font-size="7.14" textLength="12.20" lengthAdjust="spacingAndGlyphs" transform="rotate(0.03 200.00 409.00)">R11</text>
<text x="200.00" y="422.10" font-size="7.14" textLength="12.20" lengthAdjust="spacingAndGlyphs" transform="rotate(0.03 200.00 422.10)">340</text>
<rect x="199.60" y="446.00" width="12.3" height="5.0" class="b"/>
<text x="200.00" y="444.00" font-size="7.14" textLength="12.20" lengthAdjust="spacingAndGlyphs" transform="rotate(0.03 200.00 444.00)">R12</text>
<text x="200.00" y="457.10" font-size="7.14" textLength="12.20" lengthAdjust="spacingAndGlyphs" transform="rotate(0.03 200.00 457.10)">340</text>
<rect x="178.05" y="429.45" width="2.4" height="3.40" fill="#fff" stroke="none"/>
<line x1="173.85" y1="429.45" x2="184.65" y2="429.45" class="p"/>
<line x1="173.85" y1="432.85" x2="184.65" y2="432.85" class="p"/>
<text x="180.80" y="427.40" font-size="7.14" textLength="8.00" lengthAdjust="spacingAndGlyphs" transform="rotate(0.03 180.80 427.40)">C4</text>
<text x="180.80" y="440.10" font-size="7.14" textLength="11.80" lengthAdjust="spacingAndGlyphs" transform="rotate(0.03 180.80 440.10)">8n2</text>
<polyline points="225.50,422.30 225.50,378.25 308.75,378.25"/>
<polyline points="225.50,439.60 225.50,483.25 308.75,483.25"/>
<rect x="258.75" y="377.05" width="3.30" height="2.4" fill="#fff" stroke="none"/>
<line x1="258.75" y1="372.75" x2="258.75" y2="383.75" class="p"/>
<line x1="262.05" y1="372.75" x2="262.05" y2="383.75" class="p"/>
<rect x="258.75" y="482.05" width="3.30" height="2.4" fill="#fff" stroke="none"/>
<line x1="258.75" y1="477.75" x2="258.75" y2="488.75" class="p"/>
<line x1="262.05" y1="477.75" x2="262.05" y2="488.75" class="p"/>
<text x="248.10" y="376.20" font-size="7.14" textLength="8.20" lengthAdjust="spacingAndGlyphs" transform="rotate(0.03 248.10 376.20)">C9</text>
<text x="265.00" y="376.20" font-size="7.14" textLength="12.00" lengthAdjust="spacingAndGlyphs" transform="rotate(0.03 265.00 376.20)">2n2</text>
<text x="243.90" y="481.20" font-size="7.14" textLength="12.40" lengthAdjust="spacingAndGlyphs" transform="rotate(0.03 243.90 481.20)">C10</text>
<text x="265.00" y="481.20" font-size="7.14" textLength="12.00" lengthAdjust="spacingAndGlyphs" transform="rotate(0.03 265.00 481.20)">2n2</text>
<polyline points="225.50,422.30 251.90,422.30"/>
<polyline points="225.50,439.60 251.90,439.60" style="stroke:#666;"/>
<circle cx="179.25" cy="413.50" r="1.9" class="j"/>
<circle cx="179.25" cy="448.50" r="1.9" class="j"/>
<circle cx="225.50" cy="413.50" r="1.9" class="j"/>
<circle cx="225.50" cy="448.50" r="1.9" class="j"/>
<circle cx="308.75" cy="378.25" r="1.9" class="j"/>
<circle cx="308.75" cy="483.25" r="1.9" class="j"/>
<polyline points="265.00,416.00 265.00,393.75 291.25,393.75 291.25,402.60" style="stroke:#666;"/>
<rect x="271.85" y="391.25" width="12.3" height="5.0" class="b"/>
<polygon points="286.75,402.60 295.75,402.60 291.25,407.00" class="b"/>
<text x="263.10" y="389.00" font-size="7.14" textLength="12.00" lengthAdjust="spacingAndGlyphs" transform="rotate(0.03 263.10 389.00)">R18</text>
<text x="285.00" y="389.00" font-size="7.14" transform="rotate(0.03 285.00 389.00)">0</text>
<polyline points="265.00,446.20 265.00,468.00" style="stroke:#666;"/>
<polyline points="265.00,468.00 296.25,468.00 296.25,476.75"/>
<rect x="276.35" y="465.50" width="12.3" height="5.0" class="b"/>
<polygon points="291.75,476.75 300.75,476.75 296.25,481.15" class="b"/>
<text x="265.80" y="463.80" font-size="7.14" textLength="11.40" lengthAdjust="spacingAndGlyphs" transform="rotate(0.03 265.80 463.80)">R20</text>
<text x="288.80" y="463.80" font-size="7.14" transform="rotate(0.03 288.80 463.80)">0</text>
<polyline points="281.80,424.30 330.60,424.30" class="k"/>
<polyline points="282.20,437.30 330.60,437.30" class="k"/>
<polygon points="251.90,409.40 251.90,452.90 295.20,431.15" class="b"/>
<text x="254.60" y="424.30" font-size="7.14" transform="rotate(0.03 254.60 424.30)">-</text>
<text x="253.90" y="441.80" font-size="6.86" transform="rotate(0.03 253.90 441.80)">+</text>
<text x="273.10" y="426.30" font-size="6.00" textLength="7.00" lengthAdjust="spacingAndGlyphs" transform="rotate(0.03 273.10 426.30)">O+</text>
<text x="273.10" y="439.50" font-size="6.00" textLength="7.00" lengthAdjust="spacingAndGlyphs" transform="rotate(0.03 273.10 439.50)">O-</text>
<text x="267.30" y="430.60" font-size="5.14" textLength="12.50" lengthAdjust="spacingAndGlyphs" transform="rotate(-89.97 267.30 430.60)">Vocm</text>
<text x="267.30" y="443.80" font-size="5.14" textLength="5.60" lengthAdjust="spacingAndGlyphs" transform="rotate(-89.97 267.30 443.80)">EN</text>
<text x="266.20" y="416.00" font-size="8.00" textLength="13.60" lengthAdjust="spacingAndGlyphs" transform="rotate(0.03 266.20 416.00)">U4A</text>
<text x="266.20" y="453.10" font-size="8.00" textLength="38.30" lengthAdjust="spacingAndGlyphs" transform="rotate(0.03 266.20 453.10)">LME49724</text>
<text x="237.50" y="421.70" font-size="6.29" transform="rotate(0.03 237.50 421.70)">1</text>
<text x="237.50" y="439.00" font-size="6.29" transform="rotate(0.03 237.50 439.00)">8</text>
<text x="294.20" y="423.60" font-size="6.29" transform="rotate(0.03 294.20 423.60)">4</text>
<text x="293.90" y="436.90" font-size="6.29" transform="rotate(0.03 293.90 436.90)">5</text>
<text x="264.20" y="408.60" font-size="4.86" transform="rotate(-89.97 264.20 408.60)">2</text>
<text x="264.20" y="457.60" font-size="4.86" transform="rotate(-89.97 264.20 457.60)">7</text>
<polyline points="330.60,417.90 378.75,417.90" style="stroke:#666;"/>
<polyline points="330.60,444.10 378.75,444.10"/>
<circle cx="330.60" cy="417.90" r="1.9" class="j"/>
<circle cx="330.60" cy="444.10" r="1.9" class="j"/>
<polyline points="378.75,431.30 343.75,431.30 343.75,435.50"/>
<polygon points="339.25,435.50 348.25,435.50 343.75,439.90" class="b"/>
<polyline points="391.25,415.70 391.25,393.75 466.25,393.75 466.25,403.25" style="stroke:#555;"/>
<polyline points="440.00,393.75 440.00,468.00 391.25,468.00 391.25,446.80" style="stroke:#555;"/>
<rect x="414.90" y="392.55" width="2.80" height="2.4" fill="#fff" stroke="none"/>
<line x1="414.90" y1="388.75" x2="414.90" y2="398.75" class="p"/>
<line x1="417.70" y1="388.75" x2="417.70" y2="398.75" class="p"/>
<rect x="446.95" y="391.25" width="12.3" height="5.0" class="b"/>
<polygon points="461.75,403.25 470.75,403.25 466.25,407.65" class="b"/>
<circle cx="440.00" cy="393.75" r="1.9" class="j"/>
<text x="403.80" y="387.60" font-size="7.14" textLength="11.40" lengthAdjust="spacingAndGlyphs" transform="rotate(0.03 403.80 387.60)">C16</text>
<text x="406.80" y="405.00" font-size="7.14" textLength="15.80" lengthAdjust="spacingAndGlyphs" transform="rotate(0.03 406.80 405.00)">100n</text>
<text x="418.80" y="392.00" font-size="4.57" textLength="15.00" lengthAdjust="spacingAndGlyphs" transform="rotate(0.03 418.80 392.00)">unpop</text>
<text x="445.80" y="382.00" font-size="4.57" textLength="14.40" lengthAdjust="spacingAndGlyphs" font-weight="bold" transform="rotate(0.03 445.80 382.00)">unpop</text>
<text x="449.30" y="389.20" font-size="7.14" textLength="11.60" lengthAdjust="spacingAndGlyphs" transform="rotate(0.03 449.30 389.20)">R26</text>
<text x="447.00" y="402.00" font-size="6.57" textLength="8.00" lengthAdjust="spacingAndGlyphs" transform="rotate(0.03 447.00 402.00)">1M</text>
<polygon points="378.75,409.40 378.75,453.00 422.90,431.20" class="b"/>
<text x="380.60" y="420.30" font-size="6.86" transform="rotate(0.03 380.60 420.30)">+</text>
<text x="381.20" y="446.20" font-size="7.14" transform="rotate(0.03 381.20 446.20)">-</text>
<text x="380.40" y="432.70" font-size="4.43" textLength="7.20" lengthAdjust="spacingAndGlyphs" font-weight="bold" transform="rotate(0.03 380.40 432.70)">GND</text>
<text x="400.00" y="426.30" font-size="6.00" textLength="7.00" lengthAdjust="spacingAndGlyphs" transform="rotate(0.03 400.00 426.30)">O+</text>
<text x="400.00" y="439.50" font-size="6.00" textLength="7.00" lengthAdjust="spacingAndGlyphs" transform="rotate(0.03 400.00 439.50)">O-</text>
<text x="393.80" y="427.20" font-size="4.14" textLength="8.40" lengthAdjust="spacingAndGlyphs" font-weight="bold" transform="rotate(-89.97 393.80 427.20)">Cap1</text>
<text x="393.80" y="443.80" font-size="4.14" textLength="8.40" lengthAdjust="spacingAndGlyphs" font-weight="bold" transform="rotate(-89.97 393.80 443.80)">Cap2</text>
<text x="399.30" y="415.70" font-size="8.00" textLength="14.40" lengthAdjust="spacingAndGlyphs" transform="rotate(0.03 399.30 415.70)">U2A</text>
<text x="399.30" y="453.10" font-size="8.00" textLength="37.00" lengthAdjust="spacingAndGlyphs" transform="rotate(0.03 399.30 453.10)">THAT1606</text>
<text x="364.60" y="417.40" font-size="6.29" transform="rotate(0.03 364.60 417.40)">7</text>
<text x="364.60" y="430.50" font-size="6.29" transform="rotate(0.03 364.60 430.50)">5</text>
<text x="364.60" y="443.60" font-size="6.29" transform="rotate(0.03 364.60 443.60)">6</text>
<text x="420.00" y="423.20" font-size="5.14" textLength="5.20" lengthAdjust="spacingAndGlyphs" transform="rotate(0.03 420.00 423.20)">14</text>
<text x="421.30" y="436.30" font-size="5.14" transform="rotate(0.03 421.30 436.30)">3</text>
<text x="387.30" y="408.00" font-size="4.00" font-weight="bold" transform="rotate(0.03 387.30 408.00)">4</text>
<text x="390.60" y="457.60" font-size="4.00" textLength="4.60" lengthAdjust="spacingAndGlyphs" font-weight="bold" transform="rotate(-89.97 390.60 457.60)">13</text>
<text x="365.50" y="407.00" font-size="4.57" textLength="14.00" lengthAdjust="spacingAndGlyphs" transform="rotate(0.03 365.50 407.00)">unpop</text>
<polyline points="408.30,424.30 564.40,424.30 564.40,420.10 656.20,420.10"/>
<polyline points="410.30,437.30 643.50,437.30 643.50,450.30 674.00,450.30 674.00,437.50"/>
<circle cx="477.30" cy="424.30" r="1.9" class="j"/>
<circle cx="477.30" cy="437.30" r="1.9" class="j"/>
<circle cx="512.10" cy="424.30" r="1.9" class="j"/>
<circle cx="538.60" cy="437.30" r="1.9" class="j"/>
<circle cx="599.40" cy="437.30" r="1.9" class="j"/>
<circle cx="621.25" cy="420.10" r="1.9" class="j"/>
<polyline points="525.60,394.00 525.60,400.40"/>
<polyline points="512.10,461.30 512.10,400.40 538.60,400.40 538.60,461.30 512.10,461.30"/>
<polyline points="525.60,461.30 525.60,465.50"/>
<circle cx="525.60" cy="400.40" r="1.9" class="j"/>
<circle cx="525.60" cy="461.30" r="1.9" class="j"/>
<circle cx="525.60" cy="391.70" r="2.25" class="b"/>
<text x="519.50" y="387.00" font-size="6.43" textLength="11.90" lengthAdjust="spacingAndGlyphs" transform="rotate(0.03 519.50 387.00)">VCC</text>
<circle cx="525.60" cy="467.80" r="2.25" class="b"/>
<text x="519.80" y="477.20" font-size="6.43" textLength="11.30" lengthAdjust="spacingAndGlyphs" transform="rotate(0.03 519.80 477.20)">VEE</text>
<polygon points="507.70,417.75 516.50,417.75 512.10,411.20" class="b"/>
<line x1="507.70" y1="411.20" x2="516.50" y2="411.20" class="p"/>
<polygon points="507.70,437.30 516.50,437.30 512.10,430.80" class="b"/>
<line x1="507.70" y1="430.80" x2="516.50" y2="430.80" class="p"/>
<polygon points="534.20,431.20 543.00,431.20 538.60,424.50" class="b"/>
<line x1="534.20" y1="424.50" x2="543.00" y2="424.50" class="p"/>
<polygon points="534.20,450.40 543.00,450.40 538.60,444.10" class="b"/>
<line x1="534.20" y1="444.10" x2="543.00" y2="444.10" class="p"/>
<text x="496.30" y="415.60" font-size="5.00" textLength="5.80" lengthAdjust="spacingAndGlyphs" font-weight="bold" transform="rotate(0.03 496.30 415.60)">D2</text>
<text x="491.10" y="422.10" font-size="5.00" textLength="16.00" lengthAdjust="spacingAndGlyphs" font-weight="bold" transform="rotate(0.03 491.10 422.10)">BAV99</text>
<text x="494.00" y="444.40" font-size="4.57" textLength="14.90" lengthAdjust="spacingAndGlyphs" font-weight="bold" transform="rotate(0.03 494.00 444.40)">unpop</text>
<text x="546.60" y="415.60" font-size="5.00" textLength="5.80" lengthAdjust="spacingAndGlyphs" font-weight="bold" transform="rotate(0.03 546.60 415.60)">D4</text>
<text x="541.80" y="422.10" font-size="5.00" textLength="15.40" lengthAdjust="spacingAndGlyphs" font-weight="bold" transform="rotate(0.03 541.80 422.10)">BAV99</text>
<text x="541.80" y="455.10" font-size="4.57" textLength="14.90" lengthAdjust="spacingAndGlyphs" font-weight="bold" transform="rotate(0.03 541.80 455.10)">unpop</text>
<rect x="575.10" y="419.10" width="14.00" height="2" fill="#fff" stroke="none"/>
<path d="M575.10,420.10 a1.75,2.00 0 0 1 3.50,0 a1.75,2.00 0 0 1 3.50,0 a1.75,2.00 0 0 1 3.50,0 a1.75,2.00 0 0 1 3.50,0" class="w" fill="none"/>
<rect x="575.10" y="436.30" width="14.00" height="2" fill="#fff" stroke="none"/>
<path d="M575.10,437.30 a1.75,2.00 0 0 1 3.50,0 a1.75,2.00 0 0 1 3.50,0 a1.75,2.00 0 0 1 3.50,0 a1.75,2.00 0 0 1 3.50,0" class="w" fill="none"/>
<text x="568.00" y="409.00" font-size="4.57" textLength="15.30" lengthAdjust="spacingAndGlyphs" transform="rotate(0.03 568.00 409.00)">unpop</text>
<text x="577.00" y="415.90" font-size="7.14" textLength="7.00" lengthAdjust="spacingAndGlyphs" transform="rotate(0.03 577.00 415.90)">L3</text>
<text x="568.30" y="426.40" font-size="5.00" textLength="26.80" lengthAdjust="spacingAndGlyphs" font-weight="bold" transform="rotate(0.03 568.30 426.40)">600/100M</text>
<text x="577.00" y="433.30" font-size="7.14" textLength="7.00" lengthAdjust="spacingAndGlyphs" transform="rotate(0.03 577.00 433.30)">L4</text>
<text x="568.30" y="443.80" font-size="5.00" textLength="26.80" lengthAdjust="spacingAndGlyphs" font-weight="bold" transform="rotate(0.03 568.30 443.80)">600/100M</text>
<text x="568.00" y="450.80" font-size="4.57" textLength="15.30" lengthAdjust="spacingAndGlyphs" transform="rotate(0.03 568.00 450.80)">unpop</text>
<polyline points="599.40,437.30 599.40,461.30 704.50,461.30"/>
<polyline points="621.25,420.10 621.25,461.30"/>
<rect x="598.20" y="446.65" width="2.4" height="3.50" fill="#fff" stroke="none"/>
<line x1="593.75" y1="446.65" x2="605.05" y2="446.65" class="p"/>
<line x1="593.75" y1="450.15" x2="605.05" y2="450.15" class="p"/>
<rect x="620.05" y="446.65" width="2.4" height="3.50" fill="#fff" stroke="none"/>
<line x1="615.60" y1="446.65" x2="626.90" y2="446.65" class="p"/>
<line x1="615.60" y1="450.15" x2="626.90" y2="450.15" class="p"/>
<circle cx="621.25" cy="461.30" r="1.9" class="j"/>
<text x="601.30" y="445.00" font-size="7.14" textLength="11.20" lengthAdjust="spacingAndGlyphs" transform="rotate(0.03 601.30 445.00)">C18</text>
<text x="601.30" y="457.80" font-size="7.14" textLength="15.70" lengthAdjust="spacingAndGlyphs" transform="rotate(0.03 601.30 457.80)">100p</text>
<text x="592.50" y="468.00" font-size="4.57" textLength="15.00" lengthAdjust="spacingAndGlyphs" font-weight="bold" transform="rotate(0.03 592.50 468.00)">unpop</text>
<text x="623.30" y="445.00" font-size="7.14" textLength="11.70" lengthAdjust="spacingAndGlyphs" transform="rotate(0.03 623.30 445.00)">C20</text>
<text x="623.30" y="457.80" font-size="7.14" textLength="15.50" lengthAdjust="spacingAndGlyphs" transform="rotate(0.03 623.30 457.80)">100p</text>
<text x="614.30" y="468.00" font-size="4.57" textLength="15.00" lengthAdjust="spacingAndGlyphs" font-weight="bold" transform="rotate(0.03 614.30 468.00)">unpop</text>
<circle cx="673.95" cy="419.80" r="17.6" class="b"/>
<circle cx="662.8" cy="420.00" r="3.3" class="b"/>
<circle cx="685.4" cy="420.00" r="3.3" class="b"/>
<circle cx="673.95" cy="431.60" r="3.3" class="b"/>
<text x="663.70" y="413.90" font-size="5.00" font-weight="bold" transform="rotate(0.03 663.70 413.90)">2</text>
<text x="681.40" y="413.90" font-size="5.00" font-weight="bold" transform="rotate(0.03 681.40 413.90)">1</text>
<text x="671.90" y="425.00" font-size="5.00" font-weight="bold" transform="rotate(0.03 671.90 425.00)">3</text>
<text x="648.40" y="419.30" font-size="7.14" transform="rotate(0.03 648.40 419.30)">2</text>
<text x="696.40" y="419.30" font-size="7.14" transform="rotate(0.03 696.40 419.30)">1</text>
<text x="688.00" y="400.80" font-size="5.14" transform="rotate(0.03 688.00 400.80)">4</text>
<text x="673.60" y="446.20" font-size="4.86" transform="rotate(-89.97 673.60 446.20)">3</text>
<text x="657.20" y="400.10" font-size="7.14" textLength="7.20" lengthAdjust="spacingAndGlyphs" transform="rotate(0.03 657.20 400.10)">K2</text>
<text x="633.10" y="408.90" font-size="7.14" textLength="25.40" lengthAdjust="spacingAndGlyphs" transform="rotate(0.03 633.10 408.90)">NC3MBH</text>
<polyline points="691.60,420.00 704.50,420.00"/>
<polyline points="678.10,402.20 704.50,402.20 704.50,470.30"/>
<circle cx="704.50" cy="420.00" r="1.9" class="j"/>
<circle cx="704.50" cy="461.30" r="1.9" class="j"/>
<polyline points="700.40,470.30 708.80,470.30" style="stroke-width:1.0;"/>
<polyline points="701.60,470.30 700.40,473.40" style="stroke-width:0.6;"/>
<polyline points="703.90,470.30 702.70,473.40" style="stroke-width:0.6;"/>
<polyline points="706.20,470.30 705.00,473.40" style="stroke-width:0.6;"/>
<polyline points="708.50,470.30 707.30,473.40" style="stroke-width:0.6;"/>
<polyline points="65.60,584.40 212.50,584.40 212.50,606.60"/>
<polyline points="65.60,654.50 212.50,654.50 212.50,632.20"/>
<circle cx="65.60" cy="573.70" r="2.25" class="b"/>
<text x="60.10" y="569.10" font-size="6.43" textLength="11.60" lengthAdjust="spacingAndGlyphs" transform="rotate(0.03 60.10 569.10)">VCC</text>
<circle cx="65.60" cy="665.00" r="2.25" class="b"/>
<text x="60.30" y="674.10" font-size="6.43" textLength="11.00" lengthAdjust="spacingAndGlyphs" transform="rotate(0.03 60.30 674.10)">VEE</text>
<polyline points="65.60,576.00 65.60,662.70" style="stroke:#555;"/>
<circle cx="65.60" cy="584.40" r="1.9" class="j"/>
<circle cx="65.60" cy="619.20" r="1.9" class="j"/>
<circle cx="65.60" cy="654.50" r="1.9" class="j"/>
<rect x="64.40" y="595.60" width="2.4" height="3.80" fill="#fff" stroke="none"/>
<line x1="59.80" y1="595.60" x2="71.40" y2="595.60" class="p"/>
<line x1="59.80" y1="599.40" x2="71.40" y2="599.40" class="p"/>
<rect x="64.40" y="639.60" width="2.4" height="3.80" fill="#fff" stroke="none"/>
<line x1="59.80" y1="639.60" x2="71.40" y2="639.60" class="p"/>
<line x1="59.80" y1="643.40" x2="71.40" y2="643.40" class="p"/>
<polyline points="65.60,619.20 52.30,619.20 52.30,628.30"/>
<polygon points="47.90,628.30 56.70,628.30 52.30,632.70" class="b"/>
<polygon points="96.70,597.80 96.70,641.20 140.20,619.20" class="b"/>
<polyline points="114.00,584.40 114.00,606.60" style="stroke:#555;"/>
<polyline points="114.00,632.20 114.00,654.50" style="stroke:#555;"/>
<polyline points="85.50,606.40 96.70,606.40"/>
<polyline points="85.50,615.00 96.70,615.00"/>
<polyline points="85.50,623.50 96.70,623.50"/>
<polyline points="85.50,632.40 96.70,632.40"/>
<polyline points="85.50,606.40 85.50,639.60" style="stroke-width:1.0;stroke:#000;"/>
<polygon points="81.10,639.60 89.90,639.60 85.50,643.80" class="b"/>
<circle cx="85.50" cy="615.00" r="1.9" class="j"/>
<circle cx="85.50" cy="623.50" r="1.9" class="j"/>
<circle cx="85.50" cy="632.40" r="1.9" class="j"/>
<text x="99.00" y="608.10" font-size="5.00" font-weight="bold" transform="rotate(0.03 99.00 608.10)">G</text>
<text x="99.00" y="616.70" font-size="5.00" font-weight="bold" transform="rotate(0.03 99.00 616.70)">G</text>
<text x="99.00" y="625.20" font-size="5.00" font-weight="bold" transform="rotate(0.03 99.00 625.20)">G</text>
<text x="99.00" y="634.10" font-size="5.00" font-weight="bold" transform="rotate(0.03 99.00 634.10)">G</text>
<text x="94.40" y="605.70" font-size="4.71" font-weight="bold" text-anchor="end" transform="rotate(0.03 94.40 605.70)">1</text>
<text x="94.40" y="614.30" font-size="4.71" font-weight="bold" text-anchor="end" transform="rotate(0.03 94.40 614.30)">8</text>
<text x="94.40" y="622.80" font-size="4.71" font-weight="bold" text-anchor="end" transform="rotate(0.03 94.40 622.80)">9</text>
<text x="94.40" y="631.70" font-size="4.71" textLength="5.00" lengthAdjust="spacingAndGlyphs" font-weight="bold" text-anchor="end" transform="rotate(0.03 94.40 631.70)">16</text>
<text x="112.90" y="599.40" font-size="4.86" textLength="4.80" lengthAdjust="spacingAndGlyphs" font-weight="bold" transform="rotate(-89.97 112.90 599.40)">12</text>
<text x="112.90" y="643.90" font-size="4.86" textLength="4.40" lengthAdjust="spacingAndGlyphs" font-weight="bold" transform="rotate(-89.97 112.90 643.90)">11</text>
<text x="116.00" y="614.80" font-size="4.57" textLength="4.60" lengthAdjust="spacingAndGlyphs" font-weight="bold" transform="rotate(-89.97 116.00 614.80)">V+</text>
<text x="116.00" y="631.80" font-size="4.57" textLength="4.00" lengthAdjust="spacingAndGlyphs" font-weight="bold" transform="rotate(-89.97 116.00 631.80)">V-</text>
<text x="117.00" y="604.80" font-size="8.00" textLength="14.00" lengthAdjust="spacingAndGlyphs" transform="rotate(0.03 117.00 604.80)">U1B</text>
<text x="117.00" y="641.30" font-size="8.00" textLength="37.30" lengthAdjust="spacingAndGlyphs" transform="rotate(0.03 117.00 641.30)">THAT1606</text>
<text x="89.10" y="595.30" font-size="4.57" textLength="14.60" lengthAdjust="spacingAndGlyphs" transform="rotate(0.03 89.10 595.30)">unpop</text>
<polyline points="164.20,584.40 164.20,654.50" style="stroke:#555;"/>
<circle cx="164.20" cy="584.40" r="1.9" class="j"/>
<circle cx="164.20" cy="619.20" r="1.9" class="j"/>
<circle cx="164.20" cy="654.50" r="1.9" class="j"/>
<rect x="163.00" y="595.60" width="2.4" height="3.80" fill="#fff" stroke="none"/>
<line x1="158.40" y1="595.60" x2="170.00" y2="595.60" class="p"/>
<line x1="158.40" y1="599.40" x2="170.00" y2="599.40" class="p"/>
<rect x="163.00" y="639.60" width="2.4" height="3.80" fill="#fff" stroke="none"/>
<line x1="158.40" y1="639.60" x2="170.00" y2="639.60" class="p"/>
<line x1="158.40" y1="643.40" x2="170.00" y2="643.40" class="p"/>
<polyline points="164.20,619.20 150.90,619.20 150.90,628.30"/>
<polygon points="146.50,628.30 155.30,628.30 150.90,632.70" class="b"/>
<polygon points="195.30,597.80 195.30,641.20 238.80,619.20" class="b"/>
<polyline points="212.60,584.40 212.60,606.60" style="stroke:#555;"/>
<polyline points="212.60,632.20 212.60,654.50" style="stroke:#555;"/>
<polyline points="184.10,606.40 195.30,606.40"/>
<polyline points="184.10,615.00 195.30,615.00"/>
<polyline points="184.10,623.50 195.30,623.50"/>
<polyline points="184.10,632.40 195.30,632.40"/>
<polyline points="184.10,606.40 184.10,639.60" style="stroke-width:1.0;stroke:#000;"/>
<polygon points="179.70,639.60 188.50,639.60 184.10,643.80" class="b"/>
<circle cx="184.10" cy="615.00" r="1.9" class="j"/>
<circle cx="184.10" cy="623.50" r="1.9" class="j"/>
<circle cx="184.10" cy="632.40" r="1.9" class="j"/>
<text x="197.60" y="608.10" font-size="5.00" font-weight="bold" transform="rotate(0.03 197.60 608.10)">G</text>
<text x="197.60" y="616.70" font-size="5.00" font-weight="bold" transform="rotate(0.03 197.60 616.70)">G</text>
<text x="197.60" y="625.20" font-size="5.00" font-weight="bold" transform="rotate(0.03 197.60 625.20)">G</text>
<text x="197.60" y="634.10" font-size="5.00" font-weight="bold" transform="rotate(0.03 197.60 634.10)">G</text>
<text x="193.00" y="605.70" font-size="4.71" font-weight="bold" text-anchor="end" transform="rotate(0.03 193.00 605.70)">1</text>
<text x="193.00" y="614.30" font-size="4.71" font-weight="bold" text-anchor="end" transform="rotate(0.03 193.00 614.30)">8</text>
<text x="193.00" y="622.80" font-size="4.71" font-weight="bold" text-anchor="end" transform="rotate(0.03 193.00 622.80)">9</text>
<text x="193.00" y="631.70" font-size="4.71" textLength="5.00" lengthAdjust="spacingAndGlyphs" font-weight="bold" text-anchor="end" transform="rotate(0.03 193.00 631.70)">16</text>
<text x="211.50" y="599.40" font-size="4.86" textLength="4.80" lengthAdjust="spacingAndGlyphs" font-weight="bold" transform="rotate(-89.97 211.50 599.40)">12</text>
<text x="211.50" y="643.90" font-size="4.86" textLength="4.40" lengthAdjust="spacingAndGlyphs" font-weight="bold" transform="rotate(-89.97 211.50 643.90)">11</text>
<text x="214.60" y="614.80" font-size="4.57" textLength="4.60" lengthAdjust="spacingAndGlyphs" font-weight="bold" transform="rotate(-89.97 214.60 614.80)">V+</text>
<text x="214.60" y="631.80" font-size="4.57" textLength="4.00" lengthAdjust="spacingAndGlyphs" font-weight="bold" transform="rotate(-89.97 214.60 631.80)">V-</text>
<text x="215.60" y="604.80" font-size="8.00" textLength="14.00" lengthAdjust="spacingAndGlyphs" transform="rotate(0.03 215.60 604.80)">U2B</text>
<text x="215.60" y="641.30" font-size="8.00" textLength="37.30" lengthAdjust="spacingAndGlyphs" transform="rotate(0.03 215.60 641.30)">THAT1606</text>
<text x="187.70" y="595.30" font-size="4.57" textLength="14.60" lengthAdjust="spacingAndGlyphs" transform="rotate(0.03 187.70 595.30)">unpop</text>
<circle cx="114.00" cy="584.40" r="1.9" class="j"/>
<circle cx="114.00" cy="654.50" r="1.9" class="j"/>
<text x="66.70" y="593.40" font-size="7.14" textLength="8.00" lengthAdjust="spacingAndGlyphs" transform="rotate(0.03 66.70 593.40)">C1</text>
<text x="67.20" y="606.80" font-size="7.14" textLength="15.80" lengthAdjust="spacingAndGlyphs" transform="rotate(0.03 67.20 606.80)">100n</text>
<text x="66.70" y="637.60" font-size="7.14" textLength="8.30" lengthAdjust="spacingAndGlyphs" transform="rotate(0.03 66.70 637.60)">C2</text>
<text x="67.20" y="650.40" font-size="7.14" textLength="15.80" lengthAdjust="spacingAndGlyphs" transform="rotate(0.03 67.20 650.40)">100n</text>
<text x="165.30" y="593.40" font-size="7.14" textLength="8.00" lengthAdjust="spacingAndGlyphs" transform="rotate(0.03 165.30 593.40)">C5</text>
<text x="165.80" y="606.80" font-size="7.14" textLength="15.80" lengthAdjust="spacingAndGlyphs" transform="rotate(0.03 165.80 606.80)">100n</text>
<text x="165.30" y="637.60" font-size="7.14" textLength="8.30" lengthAdjust="spacingAndGlyphs" transform="rotate(0.03 165.30 637.60)">C6</text>
<text x="165.80" y="650.40" font-size="7.14" textLength="15.80" lengthAdjust="spacingAndGlyphs" transform="rotate(0.03 165.80 650.40)">100n</text>
<text x="59.00" y="604.40" font-size="4.57" textLength="14.60" lengthAdjust="spacingAndGlyphs" font-weight="bold" transform="rotate(-89.97 59.00 604.40)">unpop</text>
<text x="59.00" y="648.80" font-size="4.57" textLength="14.20" lengthAdjust="spacingAndGlyphs" font-weight="bold" transform="rotate(-89.97 59.00 648.80)">unpop</text>
<text x="157.60" y="604.40" font-size="4.57" textLength="14.60" lengthAdjust="spacingAndGlyphs" font-weight="bold" transform="rotate(-89.97 157.60 604.40)">unpop</text>
<text x="157.60" y="648.80" font-size="4.57" textLength="14.20" lengthAdjust="spacingAndGlyphs" font-weight="bold" transform="rotate(-89.97 157.60 648.80)">unpop</text>
<polyline points="275.90,577.90 275.90,660.90"/>
<polyline points="275.90,586.30 389.70,586.30 389.70,606.50"/>
<polyline points="275.90,651.90 389.70,651.90 389.70,632.40"/>
<circle cx="275.90" cy="575.60" r="2.25" class="b"/>
<text x="269.70" y="571.30" font-size="6.43" textLength="12.50" lengthAdjust="spacingAndGlyphs" transform="rotate(0.03 269.70 571.30)">VCC</text>
<circle cx="275.90" cy="663.20" r="2.25" class="b"/>
<text x="270.00" y="672.20" font-size="6.43" textLength="11.00" lengthAdjust="spacingAndGlyphs" transform="rotate(0.03 270.00 672.20)">VEE</text>
<circle cx="275.90" cy="586.30" r="1.9" class="j"/>
<circle cx="275.90" cy="619.30" r="1.9" class="j"/>
<circle cx="275.90" cy="651.90" r="1.9" class="j"/>
<rect x="274.70" y="599.95" width="2.4" height="3.50" fill="#fff" stroke="none"/>
<line x1="270.25" y1="599.95" x2="281.55" y2="599.95" class="p"/>
<line x1="270.25" y1="603.45" x2="281.55" y2="603.45" class="p"/>
<rect x="274.70" y="635.25" width="2.4" height="3.50" fill="#fff" stroke="none"/>
<line x1="270.25" y1="635.25" x2="281.55" y2="635.25" class="p"/>
<line x1="270.25" y1="638.75" x2="281.55" y2="638.75" class="p"/>
<polyline points="275.90,619.30 269.30,619.30 269.30,623.40"/>
<polygon points="265.10,623.40 273.50,623.40 269.30,627.70" class="b"/>
<text x="277.20" y="597.70" font-size="7.14" textLength="11.80" lengthAdjust="spacingAndGlyphs" transform="rotate(0.03 277.20 597.70)">C11</text>
<text x="277.20" y="610.90" font-size="7.14" textLength="16.00" lengthAdjust="spacingAndGlyphs" transform="rotate(0.03 277.20 610.90)">100n</text>
<text x="277.20" y="632.80" font-size="7.14" textLength="11.80" lengthAdjust="spacingAndGlyphs" transform="rotate(0.03 277.20 632.80)">C12</text>
<text x="277.20" y="646.00" font-size="7.14" textLength="16.00" lengthAdjust="spacingAndGlyphs" transform="rotate(0.03 277.20 646.00)">100n</text>
<polygon points="293.50,597.75 293.50,641.25 337.20,619.30" class="b"/>
<polyline points="310.90,586.30 310.90,606.50"/>
<polyline points="310.90,632.40 310.90,651.90"/>
<circle cx="310.90" cy="586.30" r="1.9" class="j"/>
<circle cx="310.90" cy="651.90" r="1.9" class="j"/>
<text x="309.60" y="598.60" font-size="4.14" font-weight="bold" transform="rotate(-89.97 309.60 598.60)">3</text>
<text x="309.60" y="642.90" font-size="4.14" font-weight="bold" transform="rotate(-89.97 309.60 642.90)">6</text>
<text x="312.80" y="615.00" font-size="4.57" textLength="5.40" lengthAdjust="spacingAndGlyphs" font-weight="bold" transform="rotate(-89.97 312.80 615.00)">V+</text>
<text x="312.80" y="630.00" font-size="4.57" textLength="4.80" lengthAdjust="spacingAndGlyphs" font-weight="bold" transform="rotate(-89.97 312.80 630.00)">V-</text>
<text x="313.75" y="604.30" font-size="8.00" textLength="14.00" lengthAdjust="spacingAndGlyphs" transform="rotate(0.03 313.75 604.30)">U3B</text>
<text x="311.90" y="646.00" font-size="8.00" textLength="38.40" lengthAdjust="spacingAndGlyphs" transform="rotate(0.03 311.90 646.00)">LME49724</text>
<polyline points="354.65,586.30 354.65,651.90"/>
<circle cx="354.65" cy="586.30" r="1.9" class="j"/>
<circle cx="354.65" cy="619.30" r="1.9" class="j"/>
<circle cx="354.65" cy="651.90" r="1.9" class="j"/>
<rect x="353.45" y="599.95" width="2.4" height="3.50" fill="#fff" stroke="none"/>
<line x1="349.00" y1="599.95" x2="360.30" y2="599.95" class="p"/>
<line x1="349.00" y1="603.45" x2="360.30" y2="603.45" class="p"/>
<rect x="353.45" y="635.25" width="2.4" height="3.50" fill="#fff" stroke="none"/>
<line x1="349.00" y1="635.25" x2="360.30" y2="635.25" class="p"/>
<line x1="349.00" y1="638.75" x2="360.30" y2="638.75" class="p"/>
<polyline points="354.65,619.30 348.05,619.30 348.05,623.40"/>
<polygon points="343.85,623.40 352.25,623.40 348.05,627.70" class="b"/>
<text x="355.95" y="597.70" font-size="7.14" textLength="11.80" lengthAdjust="spacingAndGlyphs" transform="rotate(0.03 355.95 597.70)">C13</text>
<text x="355.95" y="610.90" font-size="7.14" textLength="16.00" lengthAdjust="spacingAndGlyphs" transform="rotate(0.03 355.95 610.90)">100n</text>
<text x="355.95" y="632.80" font-size="7.14" textLength="11.80" lengthAdjust="spacingAndGlyphs" transform="rotate(0.03 355.95 632.80)">C14</text>
<text x="355.95" y="646.00" font-size="7.14" textLength="16.00" lengthAdjust="spacingAndGlyphs" transform="rotate(0.03 355.95 646.00)">100n</text>
<polygon points="372.25,597.75 372.25,641.25 415.95,619.30" class="b"/>
<text x="388.35" y="598.60" font-size="4.14" font-weight="bold" transform="rotate(-89.97 388.35 598.60)">3</text>
<text x="388.35" y="642.90" font-size="4.14" font-weight="bold" transform="rotate(-89.97 388.35 642.90)">6</text>
<text x="391.55" y="615.00" font-size="4.57" textLength="5.40" lengthAdjust="spacingAndGlyphs" font-weight="bold" transform="rotate(-89.97 391.55 615.00)">V+</text>
<text x="391.55" y="630.00" font-size="4.57" textLength="4.80" lengthAdjust="spacingAndGlyphs" font-weight="bold" transform="rotate(-89.97 391.55 630.00)">V-</text>
<text x="392.50" y="604.30" font-size="8.00" textLength="14.00" lengthAdjust="spacingAndGlyphs" transform="rotate(0.03 392.50 604.30)">U4B</text>
<text x="390.65" y="646.00" font-size="8.00" textLength="38.40" lengthAdjust="spacingAndGlyphs" transform="rotate(0.03 390.65 646.00)">LME49724</text>
<polyline points="455.30,599.90 455.30,643.50"/>
<polyline points="455.30,608.40 490.50,608.40 490.50,634.70 455.30,634.70"/>
<polyline points="472.90,608.40 472.90,634.70"/>
<circle cx="455.30" cy="597.60" r="2.25" class="b"/>
<text x="449.30" y="592.90" font-size="6.43" textLength="12.00" lengthAdjust="spacingAndGlyphs" transform="rotate(0.03 449.30 592.90)">VCC</text>
<rect x="454.10" y="619.95" width="2.4" height="3.50" fill="#fff" stroke="none"/>
<line x1="449.50" y1="619.95" x2="461.10" y2="619.95" class="p"/>
<line x1="449.50" y1="623.45" x2="461.10" y2="623.45" class="p"/>
<text x="456.80" y="617.80" font-size="7.14" textLength="11.60" lengthAdjust="spacingAndGlyphs" transform="rotate(0.03 456.80 617.80)">C22</text>
<text x="456.80" y="631.00" font-size="7.14" textLength="7.30" lengthAdjust="spacingAndGlyphs" transform="rotate(0.03 456.80 631.00)">1u</text>
<rect x="471.70" y="619.95" width="2.4" height="3.50" fill="#fff" stroke="none"/>
<line x1="467.10" y1="619.95" x2="478.70" y2="619.95" class="p"/>
<line x1="467.10" y1="623.45" x2="478.70" y2="623.45" class="p"/>
<text x="474.40" y="617.80" font-size="7.14" textLength="11.60" lengthAdjust="spacingAndGlyphs" transform="rotate(0.03 474.40 617.80)">C24</text>
<text x="474.40" y="631.00" font-size="7.14" textLength="7.30" lengthAdjust="spacingAndGlyphs" transform="rotate(0.03 474.40 631.00)">1u</text>
<rect x="489.30" y="619.95" width="2.4" height="3.50" fill="#fff" stroke="none"/>
<line x1="484.70" y1="619.95" x2="496.30" y2="619.95" class="p"/>
<line x1="484.70" y1="623.45" x2="496.30" y2="623.45" class="p"/>
<text x="492.00" y="617.80" font-size="7.14" textLength="11.60" lengthAdjust="spacingAndGlyphs" transform="rotate(0.03 492.00 617.80)">C26</text>
<text x="492.00" y="631.00" font-size="7.14" textLength="7.30" lengthAdjust="spacingAndGlyphs" transform="rotate(0.03 492.00 631.00)">1u</text>
<circle cx="455.30" cy="608.40" r="1.9" class="j"/>
<circle cx="472.90" cy="608.40" r="1.9" class="j"/>
<circle cx="455.30" cy="634.70" r="1.9" class="j"/>
<circle cx="472.90" cy="634.70" r="1.9" class="j"/>
<polygon points="450.70,643.50 459.90,643.50 455.30,647.90" class="b"/>
<polyline points="542.50,599.90 542.50,643.50"/>
<polyline points="542.50,608.40 577.70,608.40 577.70,634.70 542.50,634.70"/>
<polyline points="560.10,608.40 560.10,634.70"/>
<circle cx="542.50" cy="597.60" r="2.25" class="b"/>
<text x="536.90" y="592.90" font-size="6.43" textLength="11.40" lengthAdjust="spacingAndGlyphs" transform="rotate(0.03 536.90 592.90)">VEE</text>
<rect x="541.30" y="619.95" width="2.4" height="3.50" fill="#fff" stroke="none"/>
<line x1="536.70" y1="619.95" x2="548.30" y2="619.95" class="p"/>
<line x1="536.70" y1="623.45" x2="548.30" y2="623.45" class="p"/>
<text x="544.00" y="617.80" font-size="7.14" textLength="11.60" lengthAdjust="spacingAndGlyphs" transform="rotate(0.03 544.00 617.80)">C21</text>
<text x="544.00" y="631.00" font-size="7.14" textLength="7.30" lengthAdjust="spacingAndGlyphs" transform="rotate(0.03 544.00 631.00)">1u</text>
<rect x="558.90" y="619.95" width="2.4" height="3.50" fill="#fff" stroke="none"/>
<line x1="554.30" y1="619.95" x2="565.90" y2="619.95" class="p"/>
<line x1="554.30" y1="623.45" x2="565.90" y2="623.45" class="p"/>
<text x="561.60" y="617.80" font-size="7.14" textLength="11.60" lengthAdjust="spacingAndGlyphs" transform="rotate(0.03 561.60 617.80)">C23</text>
<text x="561.60" y="631.00" font-size="7.14" textLength="7.30" lengthAdjust="spacingAndGlyphs" transform="rotate(0.03 561.60 631.00)">1u</text>
<rect x="576.50" y="619.95" width="2.4" height="3.50" fill="#fff" stroke="none"/>
<line x1="571.90" y1="619.95" x2="583.50" y2="619.95" class="p"/>
<line x1="571.90" y1="623.45" x2="583.50" y2="623.45" class="p"/>
<text x="579.20" y="617.80" font-size="7.14" textLength="11.60" lengthAdjust="spacingAndGlyphs" transform="rotate(0.03 579.20 617.80)">C25</text>
<text x="579.20" y="631.00" font-size="7.14" textLength="7.30" lengthAdjust="spacingAndGlyphs" transform="rotate(0.03 579.20 631.00)">1u</text>
<circle cx="542.50" cy="608.40" r="1.9" class="j"/>
<circle cx="560.10" cy="608.40" r="1.9" class="j"/>
<circle cx="542.50" cy="634.70" r="1.9" class="j"/>
<circle cx="560.10" cy="634.70" r="1.9" class="j"/>
<polygon points="537.90,643.50 547.10,643.50 542.50,647.90" class="b"/>
<rect x="809.40" y="474.7" width="9.0" height="69.9" class="b"/>
<polyline points="812.70,479.40 818.40,479.40" style="stroke-width:1.3;stroke:#000;"/>
<text x="823.40" y="478.80" font-size="7.14" transform="rotate(0.03 823.40 478.80)">1</text>
<polyline points="812.70,488.20 818.40,488.20" style="stroke-width:1.3;stroke:#000;"/>
<text x="823.40" y="487.60" font-size="7.14" transform="rotate(0.03 823.40 487.60)">2</text>
<polyline points="812.70,496.80 818.40,496.80" style="stroke-width:1.3;stroke:#000;"/>
<text x="823.40" y="496.20" font-size="7.14" transform="rotate(0.03 823.40 496.20)">3</text>
<polyline points="812.70,505.60 818.40,505.60" style="stroke-width:1.3;stroke:#000;"/>
<text x="823.40" y="505.00" font-size="7.14" transform="rotate(0.03 823.40 505.00)">4</text>
<polyline points="812.70,514.40 818.40,514.40" style="stroke-width:1.3;stroke:#000;"/>
<text x="823.40" y="513.80" font-size="7.14" transform="rotate(0.03 823.40 513.80)">5</text>
<polyline points="812.70,523.00 818.40,523.00" style="stroke-width:1.3;stroke:#000;"/>
<text x="823.40" y="522.40" font-size="7.14" transform="rotate(0.03 823.40 522.40)">6</text>
<polyline points="812.70,531.90 818.40,531.90" style="stroke-width:1.3;stroke:#000;"/>
<text x="823.40" y="531.30" font-size="7.14" transform="rotate(0.03 823.40 531.30)">7</text>
<polyline points="812.70,540.70 818.40,540.70" style="stroke-width:1.3;stroke:#000;"/>
<text x="823.40" y="540.10" font-size="7.14" transform="rotate(0.03 823.40 540.10)">8</text>
<text x="809.80" y="472.80" font-size="7.14" textLength="8.60" lengthAdjust="spacingAndGlyphs" transform="rotate(0.03 809.80 472.80)">P1</text>
<polyline points="818.40,479.40 853.80,479.40"/>
<polyline points="818.40,488.20 853.80,488.20"/>
<polyline points="818.40,531.90 853.80,531.90"/>
<polyline points="818.40,540.70 853.80,540.70"/>
<polyline points="818.40,496.80 840.30,496.80 840.30,527.20"/>
<polyline points="818.40,523.00 840.30,523.00"/>
<polygon points="835.70,527.20 844.90,527.20 840.30,531.50" class="b"/>
<polyline points="818.40,505.60 862.40,505.60 862.40,501.30"/>
<polyline points="818.40,514.40 862.40,514.40 862.40,518.30"/>
<circle cx="862.40" cy="499.00" r="2.25" class="b"/>
<text x="856.30" y="494.40" font-size="6.43" textLength="11.80" lengthAdjust="spacingAndGlyphs" transform="rotate(0.03 856.30 494.40)">VCC</text>
<circle cx="862.40" cy="520.60" r="2.25" class="b"/>
<text x="856.50" y="530.00" font-size="6.43" textLength="11.00" lengthAdjust="spacingAndGlyphs" transform="rotate(0.03 856.50 530.00)">VEE</text>
<text x="844.80" y="478.40" font-size="4.57" textLength="9.00" lengthAdjust="spacingAndGlyphs" font-weight="bold" transform="rotate(0.03 844.80 478.40)">IL-</text>
<text x="844.80" y="487.20" font-size="4.57" textLength="9.00" lengthAdjust="spacingAndGlyphs" font-weight="bold" transform="rotate(0.03 844.80 487.20)">IL+</text>
<text x="844.80" y="530.90" font-size="4.57" textLength="9.00" lengthAdjust="spacingAndGlyphs" font-weight="bold" transform="rotate(0.03 844.80 530.90)">IR-</text>
<text x="844.80" y="539.70" font-size="4.57" textLength="9.00" lengthAdjust="spacingAndGlyphs" font-weight="bold" transform="rotate(0.03 844.80 539.70)">IR+</text>
<rect x="901.70" y="474.7" width="9.0" height="69.9" class="b"/>
<polyline points="905.00,479.40 910.70,479.40" style="stroke-width:1.3;stroke:#000;"/>
<text x="915.70" y="478.80" font-size="7.14" transform="rotate(0.03 915.70 478.80)">1</text>
<polyline points="905.00,488.20 910.70,488.20" style="stroke-width:1.3;stroke:#000;"/>
<text x="915.70" y="487.60" font-size="7.14" transform="rotate(0.03 915.70 487.60)">2</text>
<polyline points="905.00,496.80 910.70,496.80" style="stroke-width:1.3;stroke:#000;"/>
<text x="915.70" y="496.20" font-size="7.14" transform="rotate(0.03 915.70 496.20)">3</text>
<polyline points="905.00,505.60 910.70,505.60" style="stroke-width:1.3;stroke:#000;"/>
<text x="915.70" y="505.00" font-size="7.14" transform="rotate(0.03 915.70 505.00)">4</text>
<polyline points="905.00,514.40 910.70,514.40" style="stroke-width:1.3;stroke:#000;"/>
<text x="915.70" y="513.80" font-size="7.14" transform="rotate(0.03 915.70 513.80)">5</text>
<polyline points="905.00,523.00 910.70,523.00" style="stroke-width:1.3;stroke:#000;"/>
<text x="915.70" y="522.40" font-size="7.14" transform="rotate(0.03 915.70 522.40)">6</text>
<polyline points="905.00,531.90 910.70,531.90" style="stroke-width:1.3;stroke:#000;"/>
<text x="915.70" y="531.30" font-size="7.14" transform="rotate(0.03 915.70 531.30)">7</text>
<polyline points="905.00,540.70 910.70,540.70" style="stroke-width:1.3;stroke:#000;"/>
<text x="915.70" y="540.10" font-size="7.14" transform="rotate(0.03 915.70 540.10)">8</text>
<text x="902.10" y="472.80" font-size="7.14" textLength="8.60" lengthAdjust="spacingAndGlyphs" transform="rotate(0.03 902.10 472.80)">P2</text>
<polyline points="910.70,479.40 950.10,479.40"/>
<polyline points="910.70,540.70 950.10,540.70"/>
<polyline points="910.70,488.20 922.90,488.20"/>
<polyline points="910.70,531.90 922.90,531.90"/>
<path d="M921.50,486.20 L925.50,490.20 M921.50,490.20 L925.50,486.20" class="w" fill="none" style="stroke:#000;stroke-width:0.9"/>
<path d="M921.50,529.90 L925.50,533.90 M921.50,533.90 L925.50,529.90" class="w" fill="none" style="stroke:#000;stroke-width:0.9"/>
<polyline points="910.70,496.80 932.30,496.80 932.30,527.20"/>
<polyline points="910.70,523.00 932.30,523.00"/>
<circle cx="932.30" cy="523.00" r="1.9" class="j"/>
<polygon points="927.80,527.20 936.80,527.20 932.30,531.50" class="b"/>
<polyline points="910.70,505.60 952.00,505.60 952.00,501.30"/>
<polyline points="910.70,514.40 952.00,514.40 952.00,518.30"/>
<circle cx="952.00" cy="499.00" r="2.25" class="b"/>
<text x="945.90" y="494.40" font-size="6.43" textLength="11.80" lengthAdjust="spacingAndGlyphs" transform="rotate(0.03 945.90 494.40)">VCC</text>
<circle cx="952.00" cy="520.60" r="2.25" class="b"/>
<text x="946.10" y="530.00" font-size="6.43" textLength="11.00" lengthAdjust="spacingAndGlyphs" transform="rotate(0.03 946.10 530.00)">VEE</text>
<text x="938.50" y="478.40" font-size="4.57" textLength="11.60" lengthAdjust="spacingAndGlyphs" font-weight="bold" transform="rotate(0.03 938.50 478.40)">OutL</text>
<text x="938.50" y="539.70" font-size="4.57" textLength="11.60" lengthAdjust="spacingAndGlyphs" font-weight="bold" transform="rotate(0.03 938.50 539.70)">OutR</text>
<text x="729.25" y="183.10" font-size="8.00" textLength="210.80" lengthAdjust="spacingAndGlyphs" style="stroke-width:0.08px" transform="rotate(0.03 729.25 183.10)">There are three routing options for balanced output:</text>
<text x="729.25" y="198.85" font-size="8.00" textLength="78.50" lengthAdjust="spacingAndGlyphs" style="stroke-width:0.08px" transform="rotate(0.03 729.25 198.85)">1) Preferred option:</text>
<text x="729.25" y="206.72" font-size="8.00" textLength="232.00" lengthAdjust="spacingAndGlyphs" style="stroke-width:0.08px" transform="rotate(0.03 729.25 206.72)">Populate only differential buffers. Bypass balanced driver</text>
<text x="729.25" y="214.60" font-size="8.00" textLength="234.50" lengthAdjust="spacingAndGlyphs" style="stroke-width:0.08px" transform="rotate(0.03 729.25 214.60)">by placing 100 ohm resistors on R21-R24. This gives the</text>
<text x="729.25" y="222.47" font-size="8.00" textLength="217.00" lengthAdjust="spacingAndGlyphs" style="stroke-width:0.08px" transform="rotate(0.03 729.25 222.47)">best THD+N performance. Practical CMRR depends on</text>
<text x="729.25" y="230.35" font-size="8.00" textLength="223.50" lengthAdjust="spacingAndGlyphs" style="stroke-width:0.08px" transform="rotate(0.03 729.25 230.35)">component matching (and receiver stage). In home use</text>
<text x="729.25" y="238.22" font-size="8.00" textLength="183.00" lengthAdjust="spacingAndGlyphs" style="stroke-width:0.08px" transform="rotate(0.03 729.25 238.22)">weaker CMRR performance should not matter.</text>
<text x="729.25" y="253.97" font-size="8.00" textLength="229.00" lengthAdjust="spacingAndGlyphs" style="stroke-width:0.08px" transform="rotate(0.03 729.25 253.97)">2) Populate differential buffers U3 and U4 and balanced</text>
<text x="729.25" y="261.85" font-size="8.00" textLength="237.00" lengthAdjust="spacingAndGlyphs" style="stroke-width:0.08px" transform="rotate(0.03 729.25 261.85)">drivers U1 and U2. Do not populate R5-R8 and R21-R24.</text>
<text x="729.25" y="269.73" font-size="8.00" textLength="196.30" lengthAdjust="spacingAndGlyphs" style="stroke-width:0.08px" transform="rotate(0.03 729.25 269.73)">This gives very good CMRR performance for long</text>
<text x="729.25" y="277.60" font-size="8.00" textLength="212.80" lengthAdjust="spacingAndGlyphs" style="stroke-width:0.08px" transform="rotate(0.03 729.25 277.60)">interconnects and hostile EMC environment. However,</text>
<text x="729.25" y="285.48" font-size="8.00" textLength="122.00" lengthAdjust="spacingAndGlyphs" style="stroke-width:0.08px" transform="rotate(0.03 729.25 285.48)">THD+N performance is weaker.</text>
<text x="729.25" y="301.23" font-size="8.00" textLength="217.00" lengthAdjust="spacingAndGlyphs" style="stroke-width:0.08px" transform="rotate(0.03 729.25 301.23)">3) Populate only balanced drivers. Bypass differential</text>
<text x="729.25" y="309.10" font-size="8.00" textLength="243.80" lengthAdjust="spacingAndGlyphs" style="stroke-width:0.08px" transform="rotate(0.03 729.25 309.10)">buffers with R5-R8. The same as above but lacks low-pass</text>
<text x="729.25" y="316.98" font-size="8.00" textLength="20.80" lengthAdjust="spacingAndGlyphs" style="stroke-width:0.08px" transform="rotate(0.03 729.25 316.98)">filter.</text>
<text x="729.25" y="332.73" font-size="8.00" textLength="234.00" lengthAdjust="spacingAndGlyphs" style="stroke-width:0.08px" transform="rotate(0.03 729.25 332.73)">Note: Do not connect signals directly to XLRs without any</text>
<text x="729.25" y="340.60" font-size="8.00" textLength="180.80" lengthAdjust="spacingAndGlyphs" style="stroke-width:0.08px" transform="rotate(0.03 729.25 340.60)">ICs as there is high common mode DC level.</text>
<text x="729.25" y="356.35" font-size="8.00" textLength="232.80" lengthAdjust="spacingAndGlyphs" style="stroke-width:0.08px" transform="rotate(0.03 729.25 356.35)">Protection and RF filtering components are also optional.</text>
</svg>
</body></html>
